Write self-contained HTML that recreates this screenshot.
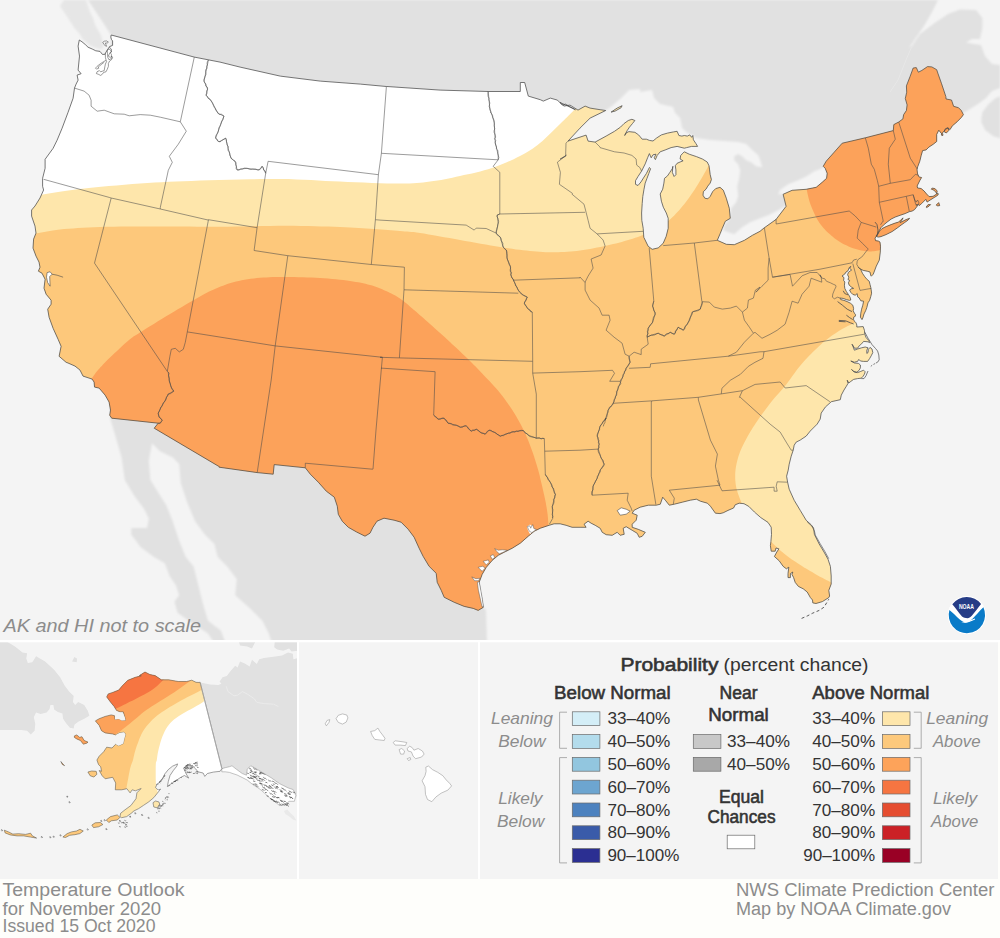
<!DOCTYPE html>
<html><head><meta charset="utf-8"><title>Temperature Outlook</title>
<style>html,body{margin:0;padding:0;background:#fefefb}svg{display:block}text{font-family:"Liberation Sans",sans-serif}</style></head><body>
<svg width="1000" height="938" viewBox="0 0 1000 938">
<defs>
<clipPath id="cm"><rect x="0" y="0" width="1000" height="640"/></clipPath>
<clipPath id="cus"><path d="M111.2 35 L194.3 57.1 L220 62.1 L240.1 67.1 L280.2 76.1 L320.2 81.1 L360.3 84.1 L386.4 86.5 L387 86.5 L440.1 90.1 L488.2 91.5 L520.3 91.5 L520.3 82.5 L524.7 82.5 L528.3 96.1 L540.3 99.7 L543.3 101.1 L550.3 98.1 L557.4 100.1 L562.4 105.1 L565.4 104.1 L575.4 109.7 L560 102.4 L564 106.1 L570 105.1 L578 110.1 L585.1 106.1 L590.1 108.1 L600.1 109.7 L605.7 110.5 L590.1 118.1 L580 128.1 L568 141.1 L586.1 135.1 L588.1 141.1 L595.1 142.1 L606.1 136.1 L614.5 131.3 L620.5 127.1 L624.1 123.5 L628.3 120.5 L631.9 119.3 L634.9 120.5 L632.5 123.5 L629.5 127.1 L627.1 130.7 L624.7 135.5 L625.9 133.1 L628.9 131.6 L634.9 132.3 L638.6 134.9 L642.2 139.2 L646.4 139.2 L649.4 140.4 L653 141 L656.6 138 L661.4 134.9 L667.5 133.1 L673.5 131.9 L677.1 131.3 L678.9 135.5 L681.9 136.1 L684.3 135.5 L687.3 136.1 L689.8 134.9 L691.6 137.3 L692.8 135.5 L693.4 139.8 L695.8 143.4 L697.6 146.4 L691.6 146.4 L686.7 147.6 L684.3 148.2 L677.1 146.4 L671.1 147.6 L665.1 150 L660.2 151.8 L657.2 155.4 L655.4 159.6 L654.2 157.8 L656 154.2 L653 154.8 L651.2 157.8 L649.4 153.6 L647.6 157.8 L645.2 163.9 L641.6 171.1 L638 176.5 L635.5 180.7 L635.5 184.3 L638 185.5 L641 181.9 L644 177.1 L646.4 173.5 L648.2 169.9 L649.4 167.5 L650.6 168.7 L648.8 173.5 L647 178.3 L645.2 183.1 L644 189.2 L642.8 196.4 L642.2 203.6 L641.6 213 L641.8 220.3 L643.2 228.3 L643.8 237.3 L648.2 246.3 L652.2 249.3 L658.2 247.9 L663.2 243.3 L666.2 236.3 L668.2 228.3 L668.2 218.3 L666.3 213 L663.3 207.2 L661.4 201.2 L660.2 194 L662.7 189.2 L663.9 183.1 L664.5 178.3 L667.5 175.9 L669.9 172.3 L672.3 168.7 L672.9 166.3 L672.3 172.3 L674.1 176.5 L675.9 174.7 L675.9 169.9 L675.3 165.7 L677.1 163.3 L680.1 162 L683.1 160.8 L680.1 159 L680.7 155.4 L683.1 153 L684.3 151.8 L689.2 154.2 L696.4 156.6 L702.4 159 L707.2 162 L709 165.7 L709.6 169.9 L710.2 174.7 L711.4 179.5 L710.2 183.1 L707.8 186.1 L706 189.2 L703.4 191.6 L703 195.2 L704.8 198.2 L707.8 198.8 L710.2 196.4 L712.7 191.6 L715.7 188.6 L720 187.3 L723.3 190.2 L726.3 198.2 L729.3 208.3 L730.3 218.3 L725.3 221.3 L722.3 228.3 L720.3 233.3 L717.3 240.3 L726.3 244.3 L734.3 244.7 L744.4 240.3 L752.4 235.3 L760 231.3 L764 228 L776.1 219.4 L786.1 206.3 L783.1 194.3 L792.1 190.3 L806.1 189.3 L816.2 187.3 L822.2 182.3 L826.6 178.3 L827.2 173.3 L825.2 168.3 L823.2 166.3 L826.2 161.2 L834.2 152.2 L842.2 143.2 L865.3 137.8 L893.3 130.6 L893.8 124.6 L898.7 122 L902.9 118.9 L903.6 114.7 L906.4 110.5 L907.1 104.9 L905.3 98.5 L906.7 92.2 L906.4 85.9 L910 76.7 L913.2 68 L916.3 67.6 L918.4 72.2 L921.9 70.4 L927.5 66.6 L931.8 66.9 L936.7 69.7 L938.1 73.9 L941.6 83.8 L945.8 96.4 L946.1 99 L951.5 100 L953.6 106.3 L958.5 107.7 L961.3 110.5 L963.4 114.7 L961.3 117.5 L957.1 121.8 L952.2 126 L950.1 129.5 L947.2 128.1 L944.4 130.9 L941.6 133.7 L938.8 130.2 L936.7 134.4 L936.7 141.5 L933.2 144.3 L928.9 147.1 L926.1 149.9 L922.6 150.6 L921.2 155.5 L919.8 161.2 L917.7 166.8 L917 169.6 L917.6 174 L919.1 177 L921.6 177.5 L920.1 180 L918.6 183 L917.1 186 L917.6 188 L921.1 188.5 L924.1 191 L926.6 194 L929.1 196.6 L933.1 196.3 L936.7 194 L937.2 191 L935.2 188.8 L932.3 188 L931.3 189.2 L933.1 189.8 L935.4 191.5 L936.7 193.5 L938.4 193.8 L937.7 195.3 L934.1 197.6 L930.1 200.1 L927.1 202.1 L925.8 199.3 L924.1 201.1 L921.6 203.6 L919.1 205.6 L918.1 204.1 L917.1 206.3 L914.6 209.6 L912.1 211.1 L909.6 211.6 L905.1 213.6 L900.1 215.3 L895.1 217.1 L891.1 219.1 L887.1 222.1 L883.5 225.1 L881 227.6 L879.5 230.1 L878 233.1 L876.5 236.1 L875 238.1 L875.5 240.6 L878.5 241.1 L880 242.1 L880.5 246.2 L880.3 252.1 L879.3 260.1 L876.3 266.1 L873.3 274.1 L871.3 276.2 L870.8 275.6 L870 272 L867.2 271.2 L863.2 270.4 L860 268.8 L858.4 267.2 L860.8 269.6 L862.4 273.2 L864.8 276.8 L867.2 279.6 L869.2 281.2 L870 284.4 L870.8 287.6 L871.2 290 L871.6 293.2 L870.8 296.4 L869.6 300.4 L868 302.8 L866.8 307.6 L865.6 310.8 L864 314 L862.8 318 L862 319.6 L860.4 317.2 L860.8 313.2 L861.6 309.2 L862.8 305.2 L863.6 301.2 L860.8 300.8 L859.2 298 L857.6 296.8 L857.2 293.6 L855.2 295.2 L852.8 294.4 L850.8 292.4 L849.6 290 L851.2 288.8 L853.6 288.4 L851.6 287.2 L849.2 285.2 L848.4 282.8 L849.6 280.4 L848 279.6 L848.8 277.2 L847.6 274.8 L848.4 272.4 L850.4 270.8 L851.6 270 L849.6 268.4 L850.8 266.4 L849.2 267.6 L848 270.8 L846 272 L844.8 274 L842 276 L844 277.6 L843.6 280.4 L844.8 282 L844.4 285.2 L844.8 288.4 L846.4 291.6 L848.4 294.4 L850 297.2 L850.8 300 L849.6 300.4 L846.4 299.6 L843.2 298.4 L840 298 L840.8 299.6 L844 300.4 L847.2 301.6 L850.4 303.2 L852.8 305.2 L853.6 308.4 L853.2 310.8 L854.4 313.2 L855.6 314.8 L855.2 316.4 L853.6 317.2 L853.6 319.6 L854.4 321.2 L856 322.8 L856.8 325 L856.8 327 L863.2 326.6 L864.4 330.2 L864.8 334.2 L866 337.4 L868.8 340.6 L869.6 342.6 L868 341.8 L863.6 341.4 L861.6 343.8 L859.2 345.8 L857.6 348.2 L854.4 348.2 L853.2 345.8 L852 344.2 L853.2 347 L854.4 350.2 L857.6 349 L861.6 347.8 L865.2 347 L868 347.8 L866.8 350.2 L866.8 353.4 L868 352.6 L868.4 349.4 L870 347.4 L872 349 L872.8 352.6 L871.2 355.8 L869.6 358.6 L867.6 361.4 L863.6 361.4 L860.4 361 L858.8 359.4 L857.6 361.4 L854.4 362.2 L850.8 361 L854.4 363 L858.4 363.4 L860.4 365 L860.4 367.8 L859.2 370.2 L856.8 372.2 L853.6 371.4 L851.6 369.4 L854.4 372.2 L857.6 372.6 L860.8 371.4 L863.6 370.2 L865.2 371.8 L864.4 374.2 L863.2 376.2 L861.2 378.2 L857.6 378.6 L853.6 379.4 L850.8 381.4 L848.8 383 L847.2 380.2 L848 383.4 L846.4 386.2 L844 390 L841.3 395.1 L840.3 399.7 L831.3 401.7 L825.3 407.1 L821.2 413.1 L820.2 419.1 L817.2 424.1 L810.2 431.1 L806.2 436.1 L800.2 440.1 L796.2 442.1 L794.2 445.2 L793.2 450.2 L791.2 456.2 L789.2 464.2 L788.2 470.2 L786.6 476.2 L787.6 482.2 L789.2 489.2 L794.2 500.3 L800.2 510.3 L806.2 520.3 L811.2 524.8 L813.6 528 L814.4 534.4 L819.2 544 L824 552 L828 559.2 L830.4 566.4 L831.2 576 L831.2 584 L828.8 590.4 L829.6 596 L828.8 597.6 L822.4 601.6 L816 603.5 L812.8 602.9 L812.5 600 L810.4 597.6 L807.2 592 L803.2 588.8 L798.4 586.4 L795.2 582.4 L793.6 577.6 L792 574.4 L792.8 572 L790.4 573.6 L790.4 577.6 L788 577.6 L788 573.6 L788.8 567.2 L786.4 568.8 L783.2 566.4 L779.2 560.8 L774.4 556.5 L776.8 552 L778.9 548.8 L776 548 L775.2 551.2 L771.2 551.2 L770.4 545.6 L770.9 541.6 L771.5 534.4 L771.2 527.2 L768 522.4 L760.8 517.6 L754.4 512 L748.8 506.4 L744 503.7 L739.2 503.2 L735.2 504.8 L733.6 508 L728 510.4 L723.2 512.8 L720 513.6 L715.4 513.2 L710.4 506.2 L707.4 503.2 L700.4 501.2 L696.4 499.2 L690.3 500.2 L682.3 502.2 L674.3 504.2 L669.3 505.2 L665.3 500.2 L662.7 497.2 L660.3 504.2 L656.3 505.2 L648.3 505.2 L640.2 507.2 L634.2 510.2 L632.2 513.2 L637.2 515.2 L636.2 520.2 L632.2 524.2 L632.2 527.3 L638.2 529.3 L645.3 532.3 L642.2 536.3 L639.2 537.3 L637.2 533.3 L632.2 530.3 L626.2 526.7 L623.2 528.3 L624.2 534.3 L620.2 535.3 L617.2 532.3 L612.2 535.3 L606.2 534.7 L602.2 532.3 L600.2 528.3 L595.2 525.3 L591.1 523.2 L588.1 521.2 L584.1 524.2 L586.1 527.3 L580.1 527.3 L572.1 527.3 L566.1 525.3 L560.1 523.8 L554.1 523.8 L549.1 525.3 L540.4 528.2 L534.3 531.2 L528.3 536.2 L520.3 543.2 L512.3 548.2 L504.3 552.2 L498.3 555.3 L492.3 560.3 L486.3 567.3 L482.2 574.3 L479.2 582.3 L480.2 590.3 L481.8 598.3 L483.2 607.4 L478.2 610.4 L473.2 608.4 L464.2 606.4 L454.2 602.3 L444.2 597.3 L441.2 590.3 L437.2 582.3 L436.2 573.3 L429.1 566.3 L423.1 556.3 L419.1 548.2 L414.1 537.2 L408.1 529.2 L401.1 522.2 L394.1 520.2 L384 518.2 L377 521.2 L373 527.2 L370 533.2 L365 536.2 L356.4 531.9 L348.3 527.3 L342.3 521.3 L338.3 514.3 L337.3 506.3 L334.3 497.2 L326.3 491.2 L318.3 482.2 L310.3 474.2 L305.3 467.8 L274.2 464.6 L273.2 474.2 L257.2 472.6 L219.1 467.2 L219.3 466.7 L154.2 428.2 L158.2 423.2 L111.7 418.2 L109.7 415.2 L110.5 410.1 L109.1 402.1 L105.1 395.1 L99.1 388.1 L94.5 387.1 L94.1 382.1 L92.1 379.1 L83 376.1 L80 370.1 L75 366.1 L68 363 L66.1 362.3 L59.1 356.3 L61.1 346.3 L58.1 339.3 L53.1 328.3 L49.1 317.3 L47.7 309.2 L51.1 304.2 L51.1 300.2 L46.1 294.2 L44 288.2 L45.1 279.2 L42 273.2 L38.4 271.2 L40 267.2 L39 262.1 L36 256.1 L33 248.1 L33.6 239.1 L36 233.1 L35 226.1 L31.6 216.1 L31.6 210 L35 206 L40 198 L43.6 190 L42.6 186.3 L42.6 178.3 L45.1 168.3 L45.1 159.3 L53.1 148.3 L57.1 140.2 L62.1 128.2 L68.1 112.2 L73.1 98.2 L74.5 88.1 L76.1 84.1 L78.1 80.1 L77.1 75.1 L81.1 73.7 L78.1 70.1 L79.5 56.1 L78.1 46.1 L79.3 40 L82 41.8 L85.6 44.8 L88 47.2 L92.2 49 L95.8 50.8 L100 51.4 L102.4 54.4 L104.8 54.4 L105.4 53.2 L107.2 50.2 L109.6 46.6 L112.6 45.4 L112.6 40.9 L111.4 39.4 L110.8 37Z M879.5 231.1 L882 228.6 L886.1 226.6 L891.1 224.6 L895.1 223.1 L898.6 222.1 L900.6 220.1 L903.1 217.9 L901.6 220.6 L900.1 222.6 L903.1 221.1 L906.1 219.6 L909.6 218.3 L908.1 220.1 L904.6 222.6 L901.1 225.1 L897.1 228.1 L892.1 231.6 L886.1 234.6 L881 236.6 L878.5 237.1 L876.5 236.6Z M926.1 207.1 L928.1 204.6 L930.6 204.6 L929.1 206.1 L926.6 207.6Z M936.2 205.1 L938.7 202.6 L939.7 205.6 L937.7 205.9Z M611.1 112.1 L617.1 108.1 L622.1 105.7 L621.1 107.7 L615.1 111.1Z M944 131.6 L945.3 128.8 L948.1 127.7 L948.8 130.5 L946.3 133Z M941.3 134.1 L942.7 133.6 L943 135.3 L941.8 135.5Z"/></clipPath>
<clipPath id="cak"><rect x="0" y="642" width="297" height="237"/></clipPath>
<clipPath id="caks"><path d="M145 672 L149.8 674.5 L155.1 675.6 L161.4 679.8 L168.7 679.8 L178.2 681.5 L186.6 681.5 L191.8 680.2 L196 682.3 L200.2 682.5 L221.9 768.6 L220.1 771.3 L213.3 772.1 L207.4 773.5 L204.8 776.4 L203.1 773 L198 771.8 L195.5 768.7 L192.9 766.2 L187.8 765.3 L183.6 767.9 L186.1 773.8 L188.7 778.1 L184.4 775.5 L181 777.2 L175.9 780.6 L170.8 784 L167.4 786.6 L168.3 781.5 L170 775.5 L173.4 770.4 L176.8 766.2 L177.6 763.9 L172.5 766.2 L168.3 769.6 L164.9 773.8 L163.2 777.2 L160.6 781.5 L157.2 784 L155.5 787.4 L158.1 790 L160.6 789.1 L157.2 793.4 L153.8 797.6 L148.7 801.9 L143.6 805.3 L138.5 808.7 L133.4 811.2 L132.6 812.3 L126.7 816.6 L121.6 817.7 L119.9 816.6 L120.7 813.2 L125 809.8 L130.9 805.5 L136 798.7 L136.9 792.8 L141.1 788.5 L135.4 790.8 L132.2 789.8 L130.1 792.9 L126.9 788.7 L121.7 789.8 L115.3 789.8 L115.7 783 L112.7 777.3 L105.2 778.8 L102.2 775.8 L99.2 770.5 L101.5 771.3 L100.7 766.8 L98.5 764.5 L96.9 760 L99.2 756.2 L103.7 751.7 L106.7 747.2 L112 748 L115.7 744.2 L118.7 745.7 L123.3 743.5 L124 739.7 L125.5 734.4 L124 732.2 L119.5 732.9 L115.7 734.9 L112.7 734 L105.2 732.9 L101.5 730.7 L99.2 725.4 L95.4 720.9 L99.2 718.7 L105.2 716.4 L111.2 714.9 L114.5 715.7 L115 719.4 L118.7 718.7 L121.7 720.2 L125.5 720.2 L124.8 717.2 L123.3 711.9 L120.2 711.9 L116.5 710.4 L114.2 706.6 L110.5 702.1 L106.7 696.9 L108.2 693.9 L112.7 692.4 L118.7 690.1 L122.5 685.6 L127.8 680.3 L135.3 677.3 L141.3 675.8 L139.3 675.6Z M74.4 735.9 L76.7 734.9 L79.7 737.4 L81.9 736.7 L84.2 740.5 L87.9 742 L87.2 743 L83.4 744.2 L80.4 740.5 L76.7 738.9 L74.4 737.4Z M87.9 772 L91.7 771 L96.2 771.3 L96.9 774.3 L93.9 777 L90.2 775.8Z M60.9 761.5 L62.4 764.5 L64.6 765.6 L62.8 764.1Z M153 802.7 L155.5 801 L158.9 801.9 L159.8 804.4 L157.2 807.8 L153.8 807Z M106.3 820 L110.5 816.6 L117.3 814.9 L119.9 817.4 L117.3 820 L111.4 820.8 L108.8 822.5Z M91.8 825.1 L95.2 822.8 L100.3 822.5 L102.9 824.5 L98.6 826.8 L93.5 827.6Z M62.9 837 L67.2 833.6 L71.4 831.9 L76.5 831 L79.9 829.3 L83.3 831 L79.9 833.6 L74.8 834.7 L69.7 835.3 L65.5 837.5Z M4.3 830.2 L8.5 831.9 L12.8 834.1 L18.7 833.7 L25.5 834.4 L30.6 833.2 L32.3 835.8 L36.6 838.1 L30.6 837.1 L23.8 835.9 L17 835.9 L10.2 834.9 L5.1 832.9Z"/></clipPath>
<filter id="bl" x="-5%" y="-5%" width="110%" height="110%"><feGaussianBlur stdDeviation="0.9"/></filter>
<filter id="bl2" x="-5%" y="-5%" width="110%" height="110%"><feGaussianBlur stdDeviation="0.6"/></filter>
</defs>
<rect width="1000" height="938" fill="#fefefb"/>
<g clip-path="url(#cm)">
<rect width="1000" height="640" fill="#f4f4f4"/>
<g filter="url(#bl)">
<path d="M88 0 L96 12 L104 24 L111 35 L111 100 L600 200 L800 260 L900 140 L963 113 L970 109 L978 104 L986 98 L992 91 L1000 88 L1000 65 L992 64 L985 56 L981 45 L974 44 L966 42.4 L972 39 L980 39 L982.4 28 L982.4 18 L976 10 L960 9.6 L948 14 L936 22 L920 34 L912 46 L909 48 L915 39 L924 26 L932 12 L938 0Z" fill="#e1e1e1" />
<path d="M64 0 L60 6 L68 18 L74 27.5 L77.2 31 L80.2 34.6 L82 38.2 L85.6 41.8 L89.2 44.8 L94 47.2 L98.2 48.4 L102.4 49 L103.6 44.8 L102.4 40.6 L101.2 35.8 L99.4 32.2 L97 28.6 L95.2 25 L93 18 L90 12 L86 0Z" fill="#e6e6e6" />
<path d="M981.4 118.2 L982.4 112.2 L988.4 104.2 L995.4 98.2 L1000.4 96.2 L1000.4 138.3 L993.4 136.3 L985.4 130.3 L981.4 122.2Z" fill="#e1e1e1" />
<path d="M152 443.2 L160 451.2 L172.8 457.6 L179.2 464 L180.8 483.2 L187.2 502.4 L195.2 521.6 L204.8 534.4 L214.4 544 L217.6 556.8 L227.2 566.4 L236.8 579.2 L235.2 595.2 L249.6 608 L262.4 620.8 L268.8 633.6 L272 643.2 L487 643 L486 610 L483 607 L400 450 L250 430 L150 414Z" fill="#e1e1e1" />
<path d="M110.4 419.2 L115.2 435.2 L121.6 457.6 L124.8 480 L134.4 496 L144 508.8 L148.8 518.4 L147.2 528 L131.2 528 L131.2 534.4 L140.8 547.2 L153.6 556.8 L164.8 563.2 L169.6 576 L176 585.6 L179.2 595.2 L174.4 601.6 L177.6 612.8 L188.8 620.8 L198.4 627.2 L208 633.6 L214.4 643.2 L225.6 643.2 L220.8 630.4 L208 620.8 L203.2 604.8 L198.4 585.6 L193.6 566.4 L185.6 556.8 L179.2 540.8 L172.8 521.6 L166.4 505.6 L158.4 492.8 L150.4 480 L148.8 460.8 L152 443.2 L156 416 L110 400Z" fill="#e1e1e1" />
<path d="M605.6 110.4 L612.1 106.1 L620.1 99 L629.1 90 L640.2 89 L640 92 L652 90 L654 98 L660 104 L673.1 107.1 L675.1 113.1 L680.1 118.1 L682.1 128.1 L686.1 132.1 L696.1 138.1 L710.1 140.1 L724.2 141.1 L738.2 142.1 L746.2 144.1 L752.2 150.1 L758.2 155.2 L760.2 160.2 L762.2 167.2 L756.2 166.2 L751.2 162.2 L746.2 160.2 L742.2 156.2 L738.2 154.1 L734.2 156.2 L734.2 160.2 L738.2 164.2 L740.2 170.2 L739.2 178.2 L737.2 186.2 L738.2 196.2 L736.2 202.2 L731.2 208.3 L730.2 216.3 L728.2 220.3 L724.2 225.3 L723.2 230.3 L728.2 232.3 L734.2 234.3 L742.2 227.3 L750.2 222.3 L760.2 218.3 L768.3 215.3 L778.3 210.3 L786.3 205.3 L787.3 203.8 L786.3 199.2 L783.3 194.2 L778.3 194.2 L780.3 189.8 L788.3 184.2 L798.3 180.2 L806.3 176.6 L814.3 171.2 L822.4 168.2 L825.4 164.2 L830 200 L760 260 L600 260 L555 160 L555 135Z" fill="#f4f4f4" />
</g>
<path d="M912 46 L906 60 L898 80 L890 92" fill="none" stroke="#e7e7e7" stroke-width="1.0" stroke-linejoin="round" />
<g clip-path="url(#cus)">
<rect width="1000" height="640" fill="#ffffff"/>
<path d="M10 201 L12.2 200.5 L15.2 199.9 L18.6 199.2 L22.5 198.4 L26.7 197.5 L31.1 196.6 L35.6 195.8 L40 195 L44.4 194.2 L48.8 193.5 L53.4 192.7 L58.1 192 L63.1 191.2 L68.4 190.5 L74 189.7 L80 189 L86.5 188.3 L93.6 187.5 L101 186.8 L108.8 186.1 L116.6 185.4 L124.5 184.7 L132.4 184.1 L140 183.5 L147.4 183 L154.5 182.6 L161.6 182.2 L168.8 181.8 L176 181.5 L183.6 181.2 L191.5 180.9 L200 180.6 L209.2 180.3 L219.1 180 L229.4 179.7 L240 179.5 L250.6 179.2 L260.9 179.1 L270.8 179 L280 179 L288.5 179.1 L296.4 179.4 L304 179.7 L311.2 180.1 L318.4 180.5 L325.5 180.9 L332.6 181.3 L340 181.6 L347.7 181.9 L355.7 182.2 L363.8 182.6 L371.9 182.9 L379.7 183.2 L387.1 183.4 L393.9 183.5 L400 183.6 L405.2 183.6 L409.6 183.5 L413.4 183.3 L416.9 183.1 L420.1 182.8 L423.2 182.4 L426.5 182 L430 181.6 L433.7 181.1 L437.5 180.5 L441.2 179.9 L444.9 179.2 L448.6 178.4 L452.4 177.7 L456.2 176.8 L460 176 L463.9 175.1 L468 174.3 L472 173.4 L476.1 172.4 L480.2 171.4 L484.2 170.3 L488.2 169.2 L492 168 L495.7 166.7 L499.5 165.3 L503.1 163.8 L506.8 162.3 L510.3 160.7 L513.7 159.2 L516.9 157.6 L520 156 L522.9 154.5 L525.6 153 L528.1 151.5 L530.5 149.9 L532.9 148.4 L535.2 146.7 L537.6 144.9 L540 143 L542.5 140.9 L545.1 138.6 L547.7 136.1 L550.3 133.6 L552.9 131.1 L555.4 128.6 L557.7 126.2 L560 124 L562 122 L563.9 120.2 L565.6 118.6 L567.2 117 L568.9 115.3 L570.7 113.5 L572.7 111.4 L575 109 L577.8 106 L581.1 102.5 L584.7 98.6 L588.4 94.6 L592 90.7 L595.3 87.1 L598 84.2 L600 82 L1000 0 L1000 640 L0 640 L0 201Z" fill="#fee6ab" />
<path d="M10 238 L12 237.7 L14.6 237.2 L17.8 236.7 L21.3 236.1 L25 235.4 L28.7 234.8 L32.3 234.2 L35.6 233.6 L38.6 233.1 L41.4 232.5 L44.2 232 L46.9 231.4 L49.8 230.9 L52.8 230.4 L56.2 229.9 L60 229.5 L64.1 229.1 L68.4 228.7 L73 228.4 L77.8 228 L82.8 227.7 L88.2 227.5 L93.9 227.2 L100 227 L106.5 226.8 L113.6 226.7 L121 226.6 L128.8 226.5 L136.6 226.5 L144.5 226.4 L152.4 226.4 L160 226.4 L167.5 226.4 L174.9 226.5 L182.2 226.5 L189.6 226.6 L197.1 226.7 L204.6 226.8 L212.2 226.8 L220 226.8 L228 226.7 L236.4 226.6 L244.8 226.4 L253.4 226.2 L261.9 226.1 L270.2 225.9 L278.3 225.8 L286 225.8 L293.5 225.8 L300.8 225.9 L308 226.1 L315 226.2 L321.7 226.4 L328.2 226.6 L334.3 226.8 L340 227 L345.3 227.2 L350.1 227.4 L354.6 227.7 L358.8 227.9 L362.7 228.2 L366.5 228.5 L370.3 228.7 L374 229 L377.7 229.2 L381.2 229.5 L384.6 229.8 L387.9 230 L391 230.2 L394.1 230.5 L397.1 230.8 L400 231 L402.7 231.2 L405 231.4 L407.1 231.5 L409.1 231.7 L411.3 231.9 L413.7 232.1 L416.6 232.5 L420 233 L424 233.6 L428.6 234.4 L433.5 235.3 L438.8 236.2 L444.1 237.2 L449.5 238.1 L454.9 239.1 L460 240 L465.1 240.9 L470.2 241.8 L475.4 242.8 L480.6 243.7 L485.7 244.6 L490.7 245.5 L495.5 246.3 L500 247 L504.3 247.7 L508.3 248.3 L512.2 248.8 L515.9 249.4 L519.6 249.8 L523.1 250.3 L526.6 250.6 L530 251 L533.4 251.3 L536.6 251.6 L539.7 251.8 L542.8 252 L545.8 252.2 L548.9 252.3 L551.9 252.3 L555 252.3 L558.1 252.2 L561.2 252.1 L564.3 252 L567.4 251.8 L570.5 251.5 L573.6 251.2 L576.8 250.9 L580 250.5 L583.3 250 L586.7 249.5 L590.2 248.9 L593.6 248.3 L597.1 247.6 L600.5 246.9 L603.8 246.2 L607 245.5 L610.1 244.8 L613.1 244.1 L616 243.4 L618.9 242.7 L621.8 241.9 L624.6 241.1 L627.3 240.3 L630 239.5 L632.7 238.7 L635.3 237.8 L637.9 236.9 L640.4 236 L642.9 235.1 L645.3 234.1 L647.7 233.1 L650 232 L652.3 230.9 L654.5 229.8 L656.7 228.6 L658.9 227.4 L661 226.2 L663 224.8 L665 223.5 L667 222 L668.9 220.5 L670.8 218.8 L672.6 217.1 L674.3 215.4 L676 213.6 L677.7 211.7 L679.4 209.9 L681 208 L682.6 206.1 L684.2 204.2 L685.7 202.2 L687.2 200.2 L688.7 198.2 L690.1 196.2 L691.6 194.1 L693 192 L694.4 189.9 L695.8 187.7 L697.2 185.5 L698.6 183.2 L699.9 181 L701.3 178.7 L702.6 176.4 L704 174 L705.3 171.8 L706.4 169.7 L707.5 167.7 L708.6 165.6 L709.8 163.3 L711.3 160.7 L713 157.7 L715 154 L717.6 149.3 L720.9 143.7 L724.4 137.3 L728.2 130.8 L731.8 124.3 L735.2 118.5 L738 113.6 L740 110 L1000 100 L1000 300 L900 312 L898.5 312.3 L896.4 312.7 L894 313.2 L891.2 313.7 L888.4 314.3 L885.5 314.8 L882.6 315.4 L880 316 L877.5 316.6 L874.9 317.2 L872.2 317.8 L869.6 318.4 L867.1 319 L864.6 319.7 L862.2 320.3 L860 321 L858 321.7 L856.1 322.3 L854.4 323 L852.8 323.7 L851.1 324.4 L849.5 325.2 L847.8 326.1 L846 327 L844.1 328 L842.1 329.1 L840.1 330.3 L838.1 331.6 L836 332.9 L834 334.2 L832 335.6 L830 337 L828.1 338.5 L826.2 340 L824.3 341.5 L822.4 343.1 L820.6 344.8 L818.7 346.5 L816.9 348.2 L815 350 L813.1 351.8 L811.2 353.7 L809.4 355.6 L807.5 357.6 L805.6 359.6 L803.8 361.6 L801.9 363.8 L800 366 L798.1 368.3 L796.2 370.8 L794.3 373.4 L792.4 376.1 L790.5 378.7 L788.6 381.3 L786.8 383.7 L785 386 L783.3 388.1 L781.6 390.1 L779.9 391.9 L778.3 393.8 L776.7 395.5 L775.1 397.3 L773.6 399.1 L772 401 L770.4 402.9 L768.9 404.9 L767.4 406.9 L765.9 408.9 L764.4 410.9 L762.9 412.9 L761.4 414.9 L760 417 L758.6 419.1 L757.1 421.2 L755.7 423.3 L754.3 425.4 L752.9 427.5 L751.6 429.7 L750.3 431.8 L749 434 L747.7 436.2 L746.5 438.4 L745.3 440.7 L744.1 442.9 L743 445.2 L741.9 447.5 L740.9 449.7 L740 452 L739.2 454.3 L738.4 456.5 L737.8 458.8 L737.2 461.1 L736.6 463.4 L736.2 465.6 L735.8 467.8 L735.5 470 L735.3 472.1 L735.2 474.2 L735.2 476.3 L735.2 478.3 L735.3 480.3 L735.5 482.3 L735.7 484.2 L736 486 L736.3 487.8 L736.7 489.5 L737.2 491.1 L737.7 492.7 L738.2 494.3 L738.8 495.8 L739.4 497.4 L740 499 L740.6 500.6 L741.2 502.2 L741.9 503.7 L742.6 505.3 L743.3 506.9 L744.1 508.5 L745 510.2 L746 512 L747.1 513.9 L748.3 515.8 L749.6 517.9 L751 520 L752.4 522 L753.9 524.1 L755.4 526.1 L757 528 L758.6 529.8 L760.3 531.6 L762.1 533.3 L763.9 535 L765.7 536.7 L767.5 538.4 L769.3 540 L771 541.6 L772.7 543.2 L774.2 544.7 L775.8 546.3 L777.4 547.8 L778.9 549.2 L780.6 550.7 L782.2 552.1 L784 553.6 L785.9 555 L787.8 556.5 L789.8 557.9 L791.8 559.4 L793.9 560.8 L795.9 562.1 L798 563.5 L800 564.8 L802 566.1 L804 567.4 L806 568.6 L808.1 569.8 L810.1 571 L812.1 572.1 L814 573.3 L816 574.4 L817.8 575.4 L819.5 576.4 L821.1 577.3 L822.7 578.1 L824.4 579.1 L826.3 580 L828.5 581.1 L831 582.4 L834.2 583.9 L837.9 585.7 L842.1 587.7 L846.4 589.7 L850.6 591.6 L854.5 593.4 L857.7 594.9 L860 596 L860 640 L0 640 L0 238Z" fill="#fdc87b" />
<path d="M70 400 L84 388 L84.6 387.2 L85.5 386.2 L86.5 384.9 L87.6 383.5 L88.8 382 L90 380.6 L91 379.2 L92 378 L92.8 376.9 L93.5 376 L94.1 375.1 L94.8 374.2 L95.4 373.2 L96.1 372.3 L97 371.2 L98 370 L99.2 368.7 L100.4 367.3 L101.8 365.9 L103.2 364.3 L104.7 362.8 L106.4 361.1 L108.1 359.3 L110 357.5 L112.1 355.5 L114.4 353.2 L117 350.9 L119.6 348.4 L122.2 346 L124.6 343.8 L127 341.7 L129 340 L130.6 338.7 L131.9 337.7 L132.9 336.9 L133.8 336.3 L134.8 335.7 L136.1 334.9 L137.8 333.9 L140 332.5 L142.8 330.7 L146.2 328.6 L149.9 326.3 L153.8 323.9 L157.9 321.3 L162.1 318.8 L166.1 316.3 L170 314 L173.8 311.7 L177.8 309.3 L181.9 306.9 L185.9 304.6 L189.8 302.3 L193.5 300.2 L196.9 298.2 L200 296.5 L202.6 295 L204.9 293.8 L206.8 292.8 L208.6 291.8 L210.3 291 L212 290.2 L213.9 289.4 L216 288.5 L218.3 287.6 L220.6 286.6 L223 285.7 L225.5 284.7 L228 283.8 L230.6 283 L233.3 282.2 L236 281.5 L238.8 280.9 L241.7 280.3 L244.6 279.7 L247.6 279.3 L250.7 278.8 L253.8 278.4 L256.9 278.1 L260 277.8 L263.1 277.5 L266.2 277.4 L269.3 277.2 L272.4 277.1 L275.6 277 L278.9 277 L282.4 277 L286 277 L289.9 277 L294 277.1 L298.3 277.2 L302.8 277.3 L307.2 277.4 L311.6 277.6 L315.9 277.8 L320 278 L324 278.3 L328 278.6 L332 278.9 L335.9 279.3 L339.7 279.7 L343.3 280.1 L346.8 280.6 L350 281 L353 281.4 L355.8 281.9 L358.4 282.3 L360.9 282.8 L363.2 283.3 L365.5 283.8 L367.8 284.4 L370 285 L372.2 285.6 L374.3 286.3 L376.4 287 L378.4 287.8 L380.3 288.6 L382.2 289.3 L384.1 290.2 L386 291 L387.8 291.8 L389.6 292.7 L391.4 293.5 L393.1 294.4 L394.8 295.3 L396.5 296.3 L398.3 297.4 L400 298.5 L401.7 299.7 L403.5 301 L405.2 302.4 L406.9 303.8 L408.6 305.3 L410.4 306.9 L412.2 308.4 L414 310 L415.9 311.6 L417.8 313.2 L419.7 314.9 L421.6 316.6 L423.6 318.3 L425.7 320.2 L427.8 322 L430 324 L432.3 326.1 L434.7 328.2 L437.2 330.4 L439.8 332.7 L442.3 335 L444.9 337.3 L447.5 339.7 L450 342 L452.5 344.4 L455.1 346.8 L457.8 349.2 L460.4 351.7 L462.9 354.2 L465.4 356.5 L467.8 358.8 L470 361 L472 363 L473.9 364.9 L475.6 366.6 L477.2 368.3 L478.9 370 L480.5 371.8 L482.2 373.6 L484 375.5 L485.9 377.5 L487.9 379.5 L489.9 381.6 L491.9 383.7 L493.9 385.9 L496 388.2 L498 390.5 L500 393 L502 395.6 L504.1 398.3 L506.2 401.2 L508.2 404.1 L510.3 407.1 L512.3 410.1 L514.2 413 L516 416 L517.7 418.9 L519.4 421.9 L520.9 424.8 L522.4 427.8 L523.9 430.8 L525.3 433.8 L526.7 436.9 L528 440 L529.3 443.2 L530.5 446.4 L531.7 449.7 L532.9 453 L534 456.3 L535 459.6 L536 462.8 L537 466 L537.9 469.1 L538.8 472.2 L539.6 475.3 L540.3 478.4 L541 481.4 L541.7 484.3 L542.4 487.2 L543 490 L543.6 492.7 L544.2 495.3 L544.8 497.9 L545.3 500.4 L545.8 502.8 L546.2 505.2 L546.6 507.6 L547 510 L547.3 512.2 L547.6 514.3 L547.8 516.3 L548 518.2 L548.1 520.3 L548.3 522.6 L548.4 525.1 L548.6 528 L548.8 531.5 L549 535.8 L549.2 540.4 L549.4 545.1 L549.6 549.7 L549.8 553.9 L549.9 557.4 L550 560 L550 640 L70 640Z" fill="#fca25a" />
<path d="M796 120 L802 160 L802.2 161.6 L802.6 163.8 L802.9 166.4 L803.4 169.3 L803.8 172.3 L804.2 175.2 L804.7 177.8 L805 180 L805.3 181.8 L805.5 183.4 L805.8 184.7 L806 186 L806.2 187.2 L806.5 188.4 L806.7 189.6 L807 191 L807.3 192.5 L807.6 193.9 L808 195.4 L808.3 196.9 L808.7 198.5 L809.1 200 L809.5 201.5 L810 203 L810.5 204.5 L811.1 206 L811.7 207.6 L812.3 209.1 L813 210.6 L813.6 212.1 L814.3 213.6 L815 215 L815.7 216.4 L816.4 217.7 L817.1 219 L817.8 220.2 L818.6 221.4 L819.3 222.7 L820.1 223.8 L821 225 L821.9 226.1 L822.8 227.2 L823.7 228.3 L824.7 229.3 L825.7 230.4 L826.7 231.4 L827.8 232.4 L829 233.5 L830.2 234.6 L831.5 235.7 L832.8 236.8 L834.1 237.9 L835.5 239 L837 240 L838.5 241 L840 242 L841.6 242.9 L843.3 243.9 L845 244.7 L846.8 245.6 L848.6 246.4 L850.4 247.2 L852.2 247.9 L854 248.5 L855.8 249.1 L857.5 249.6 L859.3 250 L861.1 250.4 L862.9 250.7 L864.6 251 L866.3 251.2 L868 251.3 L869.6 251.4 L871.1 251.4 L872.5 251.3 L873.9 251.2 L875.4 251 L876.8 250.8 L878.4 250.4 L880 250 L881.8 249.4 L883.9 248.7 L886.1 247.8 L888.2 246.9 L890.3 246 L892.2 245.2 L893.8 244.5 L895 244 L1000 240 L1000 0 L796 0Z" fill="#fca25a" />
</g>
<path d="M864.8 332.2 L868 338.2 L872 344.6 L875.6 348.6 L877.6 351 L878.8 355 L879.2 359.8 L877.6 362.2 L876 363" fill="none" stroke="#4a4a4a" stroke-width="0.7" stroke-linejoin="round" />
<path d="M868 371 L866 375.8 L864 378.6 L861.2 378.6" fill="none" stroke="#4a4a4a" stroke-width="0.7" stroke-linejoin="round" />
<path d="M875.2 363.5 L872.4 365 L870.8 366.4" fill="none" stroke="#4a4a4a" stroke-width="0.7" stroke-linejoin="round" stroke-dasharray="2 1.5"/>
<path d="M843.2 290.8 L844.8 293.6 L848 294.8" fill="none" stroke="#4a4a4a" stroke-width="0.8" stroke-linejoin="round" />
<path d="M837.6 301.6 L842.4 305.2 L847.2 309.2 L852 311.6" fill="none" stroke="#4a4a4a" stroke-width="0.8" stroke-linejoin="round" />
<path d="M846.4 315.2 L849.6 317.6 L852.8 319.6" fill="none" stroke="#4a4a4a" stroke-width="0.8" stroke-linejoin="round" />
<path d="M838.8 320.4 L845.6 320.8 L850.4 322.8 L853.6 324" fill="none" stroke="#4a4a4a" stroke-width="0.8" stroke-linejoin="round" />
<path d="M838.8 321.4 L845.6 321.8" fill="none" stroke="#4a4a4a" stroke-width="0.8" stroke-linejoin="round" />
<path d="M111.2 35 L194.3 57.1 L220 62.1 L240.1 67.1 L280.2 76.1 L320.2 81.1 L360.3 84.1 L386.4 86.5 L387 86.5 L440.1 90.1 L488.2 91.5 L520.3 91.5 L520.3 82.5 L524.7 82.5 L528.3 96.1 L540.3 99.7 L543.3 101.1 L550.3 98.1 L557.4 100.1 L562.4 105.1 L565.4 104.1 L575.4 109.7 L560 102.4 L564 106.1 L570 105.1 L578 110.1 L585.1 106.1 L590.1 108.1 L600.1 109.7 L605.7 110.5 L590.1 118.1 L580 128.1 L568 141.1 L586.1 135.1 L588.1 141.1 L595.1 142.1 L606.1 136.1 L614.5 131.3 L620.5 127.1 L624.1 123.5 L628.3 120.5 L631.9 119.3 L634.9 120.5 L632.5 123.5 L629.5 127.1 L627.1 130.7 L624.7 135.5 L625.9 133.1 L628.9 131.6 L634.9 132.3 L638.6 134.9 L642.2 139.2 L646.4 139.2 L649.4 140.4 L653 141 L656.6 138 L661.4 134.9 L667.5 133.1 L673.5 131.9 L677.1 131.3 L678.9 135.5 L681.9 136.1 L684.3 135.5 L687.3 136.1 L689.8 134.9 L691.6 137.3 L692.8 135.5 L693.4 139.8 L695.8 143.4 L697.6 146.4 L691.6 146.4 L686.7 147.6 L684.3 148.2 L677.1 146.4 L671.1 147.6 L665.1 150 L660.2 151.8 L657.2 155.4 L655.4 159.6 L654.2 157.8 L656 154.2 L653 154.8 L651.2 157.8 L649.4 153.6 L647.6 157.8 L645.2 163.9 L641.6 171.1 L638 176.5 L635.5 180.7 L635.5 184.3 L638 185.5 L641 181.9 L644 177.1 L646.4 173.5 L648.2 169.9 L649.4 167.5 L650.6 168.7 L648.8 173.5 L647 178.3 L645.2 183.1 L644 189.2 L642.8 196.4 L642.2 203.6 L641.6 213 L641.8 220.3 L643.2 228.3 L643.8 237.3 L648.2 246.3 L652.2 249.3 L658.2 247.9 L663.2 243.3 L666.2 236.3 L668.2 228.3 L668.2 218.3 L666.3 213 L663.3 207.2 L661.4 201.2 L660.2 194 L662.7 189.2 L663.9 183.1 L664.5 178.3 L667.5 175.9 L669.9 172.3 L672.3 168.7 L672.9 166.3 L672.3 172.3 L674.1 176.5 L675.9 174.7 L675.9 169.9 L675.3 165.7 L677.1 163.3 L680.1 162 L683.1 160.8 L680.1 159 L680.7 155.4 L683.1 153 L684.3 151.8 L689.2 154.2 L696.4 156.6 L702.4 159 L707.2 162 L709 165.7 L709.6 169.9 L710.2 174.7 L711.4 179.5 L710.2 183.1 L707.8 186.1 L706 189.2 L703.4 191.6 L703 195.2 L704.8 198.2 L707.8 198.8 L710.2 196.4 L712.7 191.6 L715.7 188.6 L720 187.3 L723.3 190.2 L726.3 198.2 L729.3 208.3 L730.3 218.3 L725.3 221.3 L722.3 228.3 L720.3 233.3 L717.3 240.3 L726.3 244.3 L734.3 244.7 L744.4 240.3 L752.4 235.3 L760 231.3 L764 228 L776.1 219.4 L786.1 206.3 L783.1 194.3 L792.1 190.3 L806.1 189.3 L816.2 187.3 L822.2 182.3 L826.6 178.3 L827.2 173.3 L825.2 168.3 L823.2 166.3 L826.2 161.2 L834.2 152.2 L842.2 143.2 L865.3 137.8 L893.3 130.6 L893.8 124.6 L898.7 122 L902.9 118.9 L903.6 114.7 L906.4 110.5 L907.1 104.9 L905.3 98.5 L906.7 92.2 L906.4 85.9 L910 76.7 L913.2 68 L916.3 67.6 L918.4 72.2 L921.9 70.4 L927.5 66.6 L931.8 66.9 L936.7 69.7 L938.1 73.9 L941.6 83.8 L945.8 96.4 L946.1 99 L951.5 100 L953.6 106.3 L958.5 107.7 L961.3 110.5 L963.4 114.7 L961.3 117.5 L957.1 121.8 L952.2 126 L950.1 129.5 L947.2 128.1 L944.4 130.9 L941.6 133.7 L938.8 130.2 L936.7 134.4 L936.7 141.5 L933.2 144.3 L928.9 147.1 L926.1 149.9 L922.6 150.6 L921.2 155.5 L919.8 161.2 L917.7 166.8 L917 169.6 L917.6 174 L919.1 177 L921.6 177.5 L920.1 180 L918.6 183 L917.1 186 L917.6 188 L921.1 188.5 L924.1 191 L926.6 194 L929.1 196.6 L933.1 196.3 L936.7 194 L937.2 191 L935.2 188.8 L932.3 188 L931.3 189.2 L933.1 189.8 L935.4 191.5 L936.7 193.5 L938.4 193.8 L937.7 195.3 L934.1 197.6 L930.1 200.1 L927.1 202.1 L925.8 199.3 L924.1 201.1 L921.6 203.6 L919.1 205.6 L918.1 204.1 L917.1 206.3 L914.6 209.6 L912.1 211.1 L909.6 211.6 L905.1 213.6 L900.1 215.3 L895.1 217.1 L891.1 219.1 L887.1 222.1 L883.5 225.1 L881 227.6 L879.5 230.1 L878 233.1 L876.5 236.1 L875 238.1 L875.5 240.6 L878.5 241.1 L880 242.1 L880.5 246.2 L880.3 252.1 L879.3 260.1 L876.3 266.1 L873.3 274.1 L871.3 276.2 L870.8 275.6 L870 272 L867.2 271.2 L863.2 270.4 L860 268.8 L858.4 267.2 L860.8 269.6 L862.4 273.2 L864.8 276.8 L867.2 279.6 L869.2 281.2 L870 284.4 L870.8 287.6 L871.2 290 L871.6 293.2 L870.8 296.4 L869.6 300.4 L868 302.8 L866.8 307.6 L865.6 310.8 L864 314 L862.8 318 L862 319.6 L860.4 317.2 L860.8 313.2 L861.6 309.2 L862.8 305.2 L863.6 301.2 L860.8 300.8 L859.2 298 L857.6 296.8 L857.2 293.6 L855.2 295.2 L852.8 294.4 L850.8 292.4 L849.6 290 L851.2 288.8 L853.6 288.4 L851.6 287.2 L849.2 285.2 L848.4 282.8 L849.6 280.4 L848 279.6 L848.8 277.2 L847.6 274.8 L848.4 272.4 L850.4 270.8 L851.6 270 L849.6 268.4 L850.8 266.4 L849.2 267.6 L848 270.8 L846 272 L844.8 274 L842 276 L844 277.6 L843.6 280.4 L844.8 282 L844.4 285.2 L844.8 288.4 L846.4 291.6 L848.4 294.4 L850 297.2 L850.8 300 L849.6 300.4 L846.4 299.6 L843.2 298.4 L840 298 L840.8 299.6 L844 300.4 L847.2 301.6 L850.4 303.2 L852.8 305.2 L853.6 308.4 L853.2 310.8 L854.4 313.2 L855.6 314.8 L855.2 316.4 L853.6 317.2 L853.6 319.6 L854.4 321.2 L856 322.8 L856.8 325 L856.8 327 L863.2 326.6 L864.4 330.2 L864.8 334.2 L866 337.4 L868.8 340.6 L869.6 342.6 L868 341.8 L863.6 341.4 L861.6 343.8 L859.2 345.8 L857.6 348.2 L854.4 348.2 L853.2 345.8 L852 344.2 L853.2 347 L854.4 350.2 L857.6 349 L861.6 347.8 L865.2 347 L868 347.8 L866.8 350.2 L866.8 353.4 L868 352.6 L868.4 349.4 L870 347.4 L872 349 L872.8 352.6 L871.2 355.8 L869.6 358.6 L867.6 361.4 L863.6 361.4 L860.4 361 L858.8 359.4 L857.6 361.4 L854.4 362.2 L850.8 361 L854.4 363 L858.4 363.4 L860.4 365 L860.4 367.8 L859.2 370.2 L856.8 372.2 L853.6 371.4 L851.6 369.4 L854.4 372.2 L857.6 372.6 L860.8 371.4 L863.6 370.2 L865.2 371.8 L864.4 374.2 L863.2 376.2 L861.2 378.2 L857.6 378.6 L853.6 379.4 L850.8 381.4 L848.8 383 L847.2 380.2 L848 383.4 L846.4 386.2 L844 390 L841.3 395.1 L840.3 399.7 L831.3 401.7 L825.3 407.1 L821.2 413.1 L820.2 419.1 L817.2 424.1 L810.2 431.1 L806.2 436.1 L800.2 440.1 L796.2 442.1 L794.2 445.2 L793.2 450.2 L791.2 456.2 L789.2 464.2 L788.2 470.2 L786.6 476.2 L787.6 482.2 L789.2 489.2 L794.2 500.3 L800.2 510.3 L806.2 520.3 L811.2 524.8 L813.6 528 L814.4 534.4 L819.2 544 L824 552 L828 559.2 L830.4 566.4 L831.2 576 L831.2 584 L828.8 590.4 L829.6 596 L828.8 597.6 L822.4 601.6 L816 603.5 L812.8 602.9 L812.5 600 L810.4 597.6 L807.2 592 L803.2 588.8 L798.4 586.4 L795.2 582.4 L793.6 577.6 L792 574.4 L792.8 572 L790.4 573.6 L790.4 577.6 L788 577.6 L788 573.6 L788.8 567.2 L786.4 568.8 L783.2 566.4 L779.2 560.8 L774.4 556.5 L776.8 552 L778.9 548.8 L776 548 L775.2 551.2 L771.2 551.2 L770.4 545.6 L770.9 541.6 L771.5 534.4 L771.2 527.2 L768 522.4 L760.8 517.6 L754.4 512 L748.8 506.4 L744 503.7 L739.2 503.2 L735.2 504.8 L733.6 508 L728 510.4 L723.2 512.8 L720 513.6 L715.4 513.2 L710.4 506.2 L707.4 503.2 L700.4 501.2 L696.4 499.2 L690.3 500.2 L682.3 502.2 L674.3 504.2 L669.3 505.2 L665.3 500.2 L662.7 497.2 L660.3 504.2 L656.3 505.2 L648.3 505.2 L640.2 507.2 L634.2 510.2 L632.2 513.2 L637.2 515.2 L636.2 520.2 L632.2 524.2 L632.2 527.3 L638.2 529.3 L645.3 532.3 L642.2 536.3 L639.2 537.3 L637.2 533.3 L632.2 530.3 L626.2 526.7 L623.2 528.3 L624.2 534.3 L620.2 535.3 L617.2 532.3 L612.2 535.3 L606.2 534.7 L602.2 532.3 L600.2 528.3 L595.2 525.3 L591.1 523.2 L588.1 521.2 L584.1 524.2 L586.1 527.3 L580.1 527.3 L572.1 527.3 L566.1 525.3 L560.1 523.8 L554.1 523.8 L549.1 525.3 L540.4 528.2 L534.3 531.2 L528.3 536.2 L520.3 543.2 L512.3 548.2 L504.3 552.2 L498.3 555.3 L492.3 560.3 L486.3 567.3 L482.2 574.3 L479.2 582.3 L480.2 590.3 L481.8 598.3 L483.2 607.4 L478.2 610.4 L473.2 608.4 L464.2 606.4 L454.2 602.3 L444.2 597.3 L441.2 590.3 L437.2 582.3 L436.2 573.3 L429.1 566.3 L423.1 556.3 L419.1 548.2 L414.1 537.2 L408.1 529.2 L401.1 522.2 L394.1 520.2 L384 518.2 L377 521.2 L373 527.2 L370 533.2 L365 536.2 L356.4 531.9 L348.3 527.3 L342.3 521.3 L338.3 514.3 L337.3 506.3 L334.3 497.2 L326.3 491.2 L318.3 482.2 L310.3 474.2 L305.3 467.8 L274.2 464.6 L273.2 474.2 L257.2 472.6 L219.1 467.2 L219.3 466.7 L154.2 428.2 L158.2 423.2 L111.7 418.2 L109.7 415.2 L110.5 410.1 L109.1 402.1 L105.1 395.1 L99.1 388.1 L94.5 387.1 L94.1 382.1 L92.1 379.1 L83 376.1 L80 370.1 L75 366.1 L68 363 L66.1 362.3 L59.1 356.3 L61.1 346.3 L58.1 339.3 L53.1 328.3 L49.1 317.3 L47.7 309.2 L51.1 304.2 L51.1 300.2 L46.1 294.2 L44 288.2 L45.1 279.2 L42 273.2 L38.4 271.2 L40 267.2 L39 262.1 L36 256.1 L33 248.1 L33.6 239.1 L36 233.1 L35 226.1 L31.6 216.1 L31.6 210 L35 206 L40 198 L43.6 190 L42.6 186.3 L42.6 178.3 L45.1 168.3 L45.1 159.3 L53.1 148.3 L57.1 140.2 L62.1 128.2 L68.1 112.2 L73.1 98.2 L74.5 88.1 L76.1 84.1 L78.1 80.1 L77.1 75.1 L81.1 73.7 L78.1 70.1 L79.5 56.1 L78.1 46.1 L79.3 40 L82 41.8 L85.6 44.8 L88 47.2 L92.2 49 L95.8 50.8 L100 51.4 L102.4 54.4 L104.8 54.4 L105.4 53.2 L107.2 50.2 L109.6 46.6 L112.6 45.4 L112.6 40.9 L111.4 39.4 L110.8 37Z M879.5 231.1 L882 228.6 L886.1 226.6 L891.1 224.6 L895.1 223.1 L898.6 222.1 L900.6 220.1 L903.1 217.9 L901.6 220.6 L900.1 222.6 L903.1 221.1 L906.1 219.6 L909.6 218.3 L908.1 220.1 L904.6 222.6 L901.1 225.1 L897.1 228.1 L892.1 231.6 L886.1 234.6 L881 236.6 L878.5 237.1 L876.5 236.6Z M926.1 207.1 L928.1 204.6 L930.6 204.6 L929.1 206.1 L926.6 207.6Z M936.2 205.1 L938.7 202.6 L939.7 205.6 L937.7 205.9Z M611.1 112.1 L617.1 108.1 L622.1 105.7 L621.1 107.7 L615.1 111.1Z M944 131.6 L945.3 128.8 L948.1 127.7 L948.8 130.5 L946.3 133Z M941.3 134.1 L942.7 133.6 L943 135.3 L941.8 135.5Z" fill="none" stroke="#4a4a4a" stroke-width="0.75" stroke-linejoin="round"/>
<g>
<path d="M74.5 88.1 L84.1 91.1 L89.1 95.2 L91.1 100.2 L91.1 106.2 L97.2 111.2 L104.2 110.2 L114.2 113.8 L124.2 114.2 L129.2 115.8 L140.2 114.6 L150.3 115.2 L160.3 117.2 L180.3 121.8" fill="none" stroke="#4a4a4a" stroke-width="0.55" stroke-linejoin="round" />
<path d="M194.3 57.1 L180.3 121.8 L186.3 131.2 L178.3 144.2 L169.3 156.3 L172.3 162.3 L168.3 170.3 L160.3 207.4 L160.3 209" fill="none" stroke="#4a4a4a" stroke-width="0.55" stroke-linejoin="round" />
<path d="M43.6 179.3 L109.2 197.4 L111.2 198 L160.3 209 L208.4 220.1 L208.4 219.7 L257.1 227.7" fill="none" stroke="#4a4a4a" stroke-width="0.55" stroke-linejoin="round" />
<path d="M208.4 60.1 L204 81.1 L207.6 89.1 L206 95.2 L212 102.2 L218 113.2 L224 116.2 L220 126.2 L215.6 138.2 L219 141.8 L225.7 138.2 L228.1 148.3 L231.1 158.3 L235.1 161.3 L237.1 169.9 L246.1 168.3 L259.1 169.9 L262.1 166.3 L265.7 173.3" fill="none" stroke="#4a4a4a" stroke-width="0.55" stroke-linejoin="round" />
<path d="M268.1 161.3 L378.4 174.7" fill="none" stroke="#4a4a4a" stroke-width="0.55" stroke-linejoin="round" />
<path d="M268.1 161.3 L265.7 173.3 L257.1 227.7 L254.1 250.5" fill="none" stroke="#4a4a4a" stroke-width="0.55" stroke-linejoin="round" />
<path d="M386.4 86.5 L381.4 153.3 L378.4 174.7 L375.4 219.7 L371.3 264.5" fill="none" stroke="#4a4a4a" stroke-width="0.55" stroke-linejoin="round" />
<path d="M381.4 153.3 L498.2 159.8" fill="none" stroke="#4a4a4a" stroke-width="0.55" stroke-linejoin="round" />
<path d="M488.2 91.5 L489.8 108.1 L494.2 122.2 L495.2 142.2 L498.2 155.2 L498.2 159.8 L493.2 166.3 L499.8 172.3 L499.8 213.3 L499.8 214 L497.2 215.1 L498.2 223.1 L496.2 233.1" fill="none" stroke="#4a4a4a" stroke-width="0.55" stroke-linejoin="round" />
<path d="M499.8 214 L580 212.4 L585.1 212.3" fill="none" stroke="#4a4a4a" stroke-width="0.55" stroke-linejoin="round" />
<path d="M375.4 219.7 L380 220.1 L466.2 225.1 L474.2 230.1 L476.2 228.1 L486.2 228.5 L496.2 233.1" fill="none" stroke="#4a4a4a" stroke-width="0.55" stroke-linejoin="round" />
<path d="M496.2 233.1 L500.2 237.1 L503.2 247.1 L506.3 250.1 L507.3 259.1 L510.3 266.2 L511.3 276.2 L513.9 281.2 L518.3 290.2 L523.3 295.2 L527.3 297.2 L524.3 303.2 L528.3 309.2 L532.3 312.2 L532.7 361.3 L532.7 373.1 L536.3 394.1 L536.3 438.2" fill="none" stroke="#4a4a4a" stroke-width="0.55" stroke-linejoin="round" />
<path d="M513.3 280.2 L580 277.8 L580 277.1 L585.1 282.5" fill="none" stroke="#4a4a4a" stroke-width="0.55" stroke-linejoin="round" />
<path d="M404 289.8 L518.3 293.2" fill="none" stroke="#4a4a4a" stroke-width="0.55" stroke-linejoin="round" />
<path d="M254.1 250.5 L287.8 255.7 L371.3 264.5 L380 265.2 L404.4 267.2 L404 289.8 L399.4 357.9" fill="none" stroke="#4a4a4a" stroke-width="0.55" stroke-linejoin="round" />
<path d="M287.8 255.7 L275.2 345.9 L271.2 380 L257.2 472.6" fill="none" stroke="#4a4a4a" stroke-width="0.55" stroke-linejoin="round" />
<path d="M187.3 331.9 L200 333.9 L275.2 345.9 L382.4 357.3 L380 357.3 L399.4 357.9 L532.7 361.3" fill="none" stroke="#4a4a4a" stroke-width="0.55" stroke-linejoin="round" />
<path d="M208.4 220.1 L187.3 331.9 L185.3 342.3 L183.3 349.3 L179.3 351.9 L175.3 348.3 L171.3 349.3 L169.9 356.3 L167.3 371.4 L168.2 372.1 L169.2 380.1 L171.2 387.1 L173.8 391.1 L168.2 394.1 L164.2 402.1 L160.2 409.1 L158.2 413.1 L159.2 417.2 L162.2 420.2 L160.2 423.2 L158.2 423.2" fill="none" stroke="#4a4a4a" stroke-width="0.55" stroke-linejoin="round" />
<path d="M111.2 198 L94.5 263.1 L167.3 371.4" fill="none" stroke="#4a4a4a" stroke-width="0.55" stroke-linejoin="round" />
<path d="M382.4 357.3 L381.4 368.4 L376 430 L373 469.1 L372.4 469.2 L305.3 463.2 L305.3 467.8" fill="none" stroke="#4a4a4a" stroke-width="0.55" stroke-linejoin="round" />
<path d="M381.4 368.4 L381 368.1 L435.1 371.7 L433.7 415.2 L438.1 419.2 L444.1 418.2 L448.1 423.2 L456.2 425.2 L460.2 427.2 L466.2 425.8 L471.2 431.2 L476.2 429.2 L480.2 432.2 L485.2 434.2 L489.2 430.2 L494.2 432.2 L500.2 436.2 L508.3 433.2 L516.3 431.2 L523.3 430.6 L528.3 435.2 L536.3 438.2 L544.3 438.6 L544.7 451.2 L545.3 474.3 L550.3 482.3 L555.4 494.3 L552.3 506.4 L552.4 510.2 L552.8 518.2 L549.4 524.2" fill="none" stroke="#4a4a4a" stroke-width="0.55" stroke-linejoin="round" />
<path d="M532.7 373.1 L580 371.7 L612.5 370.3 L614.5 373.3 L609.7 381.3 L620.1 381.3" fill="none" stroke="#4a4a4a" stroke-width="0.55" stroke-linejoin="round" />
<path d="M544.7 451.2 L580 450.2 L598.2 449.1" fill="none" stroke="#4a4a4a" stroke-width="0.55" stroke-linejoin="round" />
<path d="M568 141.1 L566 143.1 L565.6 156.2 L560 159.2 L566.4 155.2 L557.4 162.2 L560.4 172.3 L559.4 184.3 L572.4 193.3 L572 194.2 L584 204.2 L586.1 212.3 L588.1 220.3 L590.1 228.3 L597.1 233.9 L603.1 240 L605.1 246 L601.1 255 L591.1 259 L593.1 268.1 L588.1 276.1 L585.1 282.1 L585.1 290.1 L590.1 300.1 L599.1 308.1 L602.1 315.2 L609.1 315.2 L610.1 320.2 L606.1 330.2 L614.1 337.2 L622.1 343.2 L625.1 354.2 L629.1 356.2 L630.1 362.2 L626.1 368.3 L622.1 378.3 L618.1 388.3 L615.1 398.3 L613.1 403.3 L608.1 410.3 L605.1 420.4 L606.2 418 L600.2 426.1 L597.2 436.1 L599.2 444.1 L598.2 449.1 L601.2 458.1 L604.2 464.1 L600.2 470.1 L597.2 478.2 L593.1 486.2 L592.1 495.2 L628.2 493.2 L627.2 500.2 L631.2 508.2 L632.2 511.2" fill="none" stroke="#4a4a4a" stroke-width="0.55" stroke-linejoin="round" />
<path d="M595.1 142.1 L600.1 147.1 L600 147.6 L614.5 151.8 L624.1 153 L631.9 155.4 L636.1 159 L636.7 165.1 L639.8 167.5 L641.6 171.1" fill="none" stroke="#4a4a4a" stroke-width="0.55" stroke-linejoin="round" />
<path d="M597.1 233.9 L643.2 231.3" fill="none" stroke="#4a4a4a" stroke-width="0.55" stroke-linejoin="round" />
<path d="M649.2 248 L653.8 301.1 L652.6 306.1 L655.2 314.1 L652.6 322.2 L648.2 328.2 L647.2 337.2" fill="none" stroke="#4a4a4a" stroke-width="0.55" stroke-linejoin="round" />
<path d="M629.1 356.2 L634.1 352.2 L641.2 354.6 L641.2 349.2 L648.2 344.2 L647.2 337.2 L651.2 335.2 L658.2 333.2 L664.2 336.2 L670.2 332.2 L674.2 334.2 L678.2 327.2 L683.2 330.2 L688.3 322.2 L692.3 312.1 L700.3 309.1 L702.3 301.7 L709.3 302.1 L714.3 307.1 L722.3 309.1 L730.3 308.1 L736.4 306.1 L742.4 312.1 L747.4 308.1 L748.4 300.1 L753.4 298.1 L755.4 290.1 L760 287.1 L756 292.2 L762 286.2 L768.1 280.2 L768.1 268.1 L769.1 258.1 L764.4 228.1" fill="none" stroke="#4a4a4a" stroke-width="0.55" stroke-linejoin="round" />
<path d="M694.3 243 L701.9 301.7" fill="none" stroke="#4a4a4a" stroke-width="0.55" stroke-linejoin="round" />
<path d="M663.2 245.6 L694.3 243 L717.3 240.3" fill="none" stroke="#4a4a4a" stroke-width="0.55" stroke-linejoin="round" />
<path d="M629.1 368.3 L650.2 367.3 L650.6 363.8 L728.3 356.2 L760 351.8 L764 351.7 L864.4 334.2" fill="none" stroke="#4a4a4a" stroke-width="0.55" stroke-linejoin="round" />
<path d="M728.3 356.2 L736.4 352.2 L744.4 342.2 L753.4 333.2 L749.4 327.2 L744.4 320.2 L742.4 312.1" fill="none" stroke="#4a4a4a" stroke-width="0.55" stroke-linejoin="round" />
<path d="M753.4 333.2 L755 332.3 L762 338.3 L770.1 334.3 L777.1 330.3 L785.1 324.2 L789.1 312.2 L792.1 301.2 L798.1 303.2 L802.1 294.2 L809.1 286.2 L811.1 278.2 L821.8 282.2 L821.2 277.2" fill="none" stroke="#4a4a4a" stroke-width="0.55" stroke-linejoin="round" />
<path d="M772.5 277.2 L790.1 274.5 L792.5 286.2 L798.1 280.2 L802.1 275.8 L810.1 272.5 L817.2 272.5 L821.2 277.2 L820 274.8 L821.6 278 L824.8 278.8 L826.4 281.2 L830.4 282.8 L833.6 284.4 L835.6 285.2 L836 286.8 L834.4 290 L832.8 294 L832.4 297.2 L834.4 298.8 L837.6 297.2 L840 298" fill="none" stroke="#4a4a4a" stroke-width="0.55" stroke-linejoin="round" />
<path d="M776.1 219 L776.1 224 L849.2 211 L855.2 216 L861.2 222.4 L858.2 230.1 L857.2 238.1 L862.2 243.1 L868.3 249.1 L867.2 250 L863.6 254.8 L861.6 257.2 L858.4 259.2 L857.2 261.2 L856.8 264.4 L858.4 267.2" fill="none" stroke="#4a4a4a" stroke-width="0.55" stroke-linejoin="round" />
<path d="M856.8 259.2 L853.6 260 L852 262.8 L820 269.2 L772.5 277.2 L769.1 258.1" fill="none" stroke="#4a4a4a" stroke-width="0.55" stroke-linejoin="round" />
<path d="M861.2 222.4 L876.3 227.1" fill="none" stroke="#4a4a4a" stroke-width="0.55" stroke-linejoin="round" />
<path d="M852.8 263.6 L860 290.4 L871.2 288.4" fill="none" stroke="#4a4a4a" stroke-width="0.55" stroke-linejoin="round" />
<path d="M613.1 403.3 L651.2 400.9 L698.3 397.3 L721.3 393.9 L742.4 390.7 L755.1 384.4 L780.2 382 L785.2 388 L806.2 385.6 L829.9 401.7" fill="none" stroke="#4a4a4a" stroke-width="0.55" stroke-linejoin="round" />
<path d="M721.3 393.9 L721.9 388.3 L730.3 380.3 L740.4 374.3 L748.4 366.3 L755 362.3 L763 358.3 L764 351.7" fill="none" stroke="#4a4a4a" stroke-width="0.55" stroke-linejoin="round" />
<path d="M652.2 401.3 L651.3 401.6 L651.3 476.2 L655.9 504.6" fill="none" stroke="#4a4a4a" stroke-width="0.55" stroke-linejoin="round" />
<path d="M698.3 397.3 L698.4 400 L710.4 440.1 L717.4 454.1 L715.4 466.1 L718.4 480.2 L720 485.2 L669.3 490.2 L674.3 498.2 L673.3 504.2" fill="none" stroke="#4a4a4a" stroke-width="0.55" stroke-linejoin="round" />
<path d="M717 480.2 L722 490.8 L774.1 487.2 L774.1 491.2 L777.2 491.2 L776.2 486.2 L777.2 481.8 L787.6 482.2" fill="none" stroke="#4a4a4a" stroke-width="0.55" stroke-linejoin="round" />
<path d="M742.4 390.7 L739.4 397.3 L740.1 397.1 L750.1 406.1 L760.1 415.1 L770.1 424.1 L780.2 432.1 L786.2 442.1 L791.2 450.2 L793.2 450.2" fill="none" stroke="#4a4a4a" stroke-width="0.55" stroke-linejoin="round" />
<path d="M865.3 137.8 L868.3 148.2 L871.3 164.2 L874.3 169.3 L877.3 180.3 L878.7 186.3 L879.3 202.3 L883.3 221.4" fill="none" stroke="#4a4a4a" stroke-width="0.55" stroke-linejoin="round" />
<path d="M893.3 130.6 L895.3 139.2 L889.3 148.2 L888.3 164.2 L890.3 183.3" fill="none" stroke="#4a4a4a" stroke-width="0.55" stroke-linejoin="round" />
<path d="M898.7 122 L910.3 158.2 L917.4 169.3" fill="none" stroke="#4a4a4a" stroke-width="0.55" stroke-linejoin="round" />
<path d="M878.7 186.3 L890.3 183.3 L910.3 179.7 L915.4 174.3 L918.4 175.3" fill="none" stroke="#4a4a4a" stroke-width="0.55" stroke-linejoin="round" />
<path d="M879.3 202.3 L906.3 196.3 L913.3 194.7 L915.4 203.3" fill="none" stroke="#4a4a4a" stroke-width="0.55" stroke-linejoin="round" />
<path d="M906.3 196.3 L909.3 211.3" fill="none" stroke="#4a4a4a" stroke-width="0.55" stroke-linejoin="round" />
</g>
<path d="M109.6 46.6 L109.9 48.1 L111.4 49 L111.4 52 L110.2 52.6 L111.4 54.4 L111.4 56.2 L112.6 57.7 L111.4 59.8 L109.6 61 L108.4 63.4 L108.4 66.4 L107.2 69.4 L106 71.8 L103.6 72.4 L102.4 74.2 L100.6 75.4 L98.2 74.2 L96.4 73.6 L97 71.8 L99.4 70.6 L100.6 71.8 L102.4 71.2 L104.2 70.6 L104.8 67 L105.4 64 L106.6 61.6 L106 59.8 L105.4 57.4 L105.4 53.2" fill="none" stroke="#4a4a4a" stroke-width="0.55" stroke-linejoin="round" />
<path d="M106 60.4 L103.6 61.6 L100 64 L97 66.4 L95.5 68.2 L96.4 69.1 L98.8 68.2 L98.2 67 L101.2 64.6 L104.2 62.2" fill="none" stroke="#4a4a4a" stroke-width="0.55" stroke-linejoin="round" />
<path d="M102.7 42.4 L104.2 41.2 L106.6 40.9 L108.4 42.1 L107.2 43 L105.4 43 L106 44.8 L106.6 46.3 L105.4 46 L104.2 44.5 L102.7 42.4" fill="none" stroke="#4a4a4a" stroke-width="0.55" stroke-linejoin="round" />
<path d="M107.2 50.2 L109 49 L110.8 50.2 L111.4 52 L109.6 53.2 L108.4 56.2 L110.2 57.4 L112 56.2 L111.4 58.6 L109 59.8 L107.8 57.4 L107.5 53.8 L107.2 50.2" fill="none" stroke="#4a4a4a" stroke-width="0.55" stroke-linejoin="round" />
<path d="M875 222.1 L877 224.6 L878 230.1 L877.5 234.1 L876 236.1" fill="none" stroke="#4a4a4a" stroke-width="0.8" stroke-linejoin="round" />
<path d="M883 221.1 L880.5 224.9" fill="none" stroke="#4a4a4a" stroke-width="0.55" stroke-linejoin="round" />
<path d="M914.6 199.6 L916.1 202.1 L917.6 200.1 L919.1 203.1 L917.1 205.1 L915.6 203.6 L916.6 206.1" fill="none" stroke="#4a4a4a" stroke-width="0.6" stroke-linejoin="round" />
<path d="M913.1 195.1 L914.9 200.1" fill="none" stroke="#4a4a4a" stroke-width="0.55" stroke-linejoin="round" />
<path d="M47.1 272.6 L50.1 271.8 L52.1 274.2 L49.7 276.6 L50.1 286.2 L47.7 282.6 L46.5 277.2Z" fill="#ffffff" stroke="#4a4a4a" stroke-width="0.6"/>
<path d="M52.1 274.2 L57.1 275.2 L63.1 277.2" fill="none" stroke="#4a4a4a" stroke-width="0.6" stroke-linejoin="round" />
<path d="M527 526.7 L530 524.6 L532.4 526.3 L531.6 529.9 L534 530.7 L530 533.9 L528 530.3Z" fill="#ffffff" />
<path d="M617.2 510.6 L621.2 507.8 L626.2 509.2 L630.2 511.2 L626.2 514.2 L620.2 515.2Z" fill="#ffffff" stroke="#4a4a4a" stroke-width="0.6"/>
<path d="M807.2 521.9 L811.8 526.1 L814.4 530.9 L815.4 535.2 L820.2 543.7 L825 551.7 L828.8 558.7" fill="none" stroke="#4a4a4a" stroke-width="0.6" stroke-linejoin="round" />
<path d="M801.6 618.4 L807.2 616 L812.8 613.1 L819.2 610.4 L824 607.2 L828.8 599.2" fill="none" stroke="#4a4a4a" stroke-width="0.9" stroke-linejoin="round" stroke-dasharray="3 2.5"/>
<path d="M527.3 526.6 L529.9 525.8 L530.7 528.2 L532.7 524.6 L533.9 528.6 L536.4 529.4 L531.9 532.6 L529.3 531.2Z" fill="#ffffff" stroke="#4a4a4a" stroke-width="0.45"/>
<path d="M494.7 548.6 L498.3 550.2 L502.3 549.8 L507.3 550.2 L503.3 552.2 L499.3 553.8 L496.7 551.4Z" fill="#ffffff" stroke="#4a4a4a" stroke-width="0.45"/>
<path d="M490.3 555.9 L493.3 554.6 L494.7 557.5 L492.3 559.3Z" fill="#ffffff" stroke="#4a4a4a" stroke-width="0.45"/>
<path d="M483.2 561.3 L488.3 559.9 L489.3 562.3 L486.3 564.7 L484.6 563.1Z" fill="#ffffff" stroke="#4a4a4a" stroke-width="0.45"/>
<path d="M478.2 567.3 L482.6 566.3 L485.3 567.9 L482.2 571.3 L480.2 569.5Z" fill="#ffffff" stroke="#4a4a4a" stroke-width="0.45"/>
<path d="M471.8 576.9 L475.8 578.7 L479.8 578.3 L478.6 580.7 L474.6 580.7Z" fill="#ffffff" stroke="#4a4a4a" stroke-width="0.45"/>
<path d="M477.4 582.3 L479.2 581.7 L480.8 590.3 L482.4 599.3 L483.4 606.8 L482 606.8 L480.2 598.3 L478.4 590.3Z" fill="#ffffff" stroke="#4a4a4a" stroke-width="0.45"/>
<path d="M606.2 418 L605.25 419.39 L604.13 420.65 L602.72 421.7 L602.24 423.43 L601.19 424.74 L600.2 426.1 L599.58 427.73 L599.62 429.56 L598.68 431.1 L598.03 432.71 L597.31 434.32 L597.2 436.1 L598.15 437.56 L598.27 439.23 L598.96 440.76 L598.38 442.61 L599.2 444.1 L598.6 445.71 L599.16 447.56 L598.2 449.1 L598.16 451.11 L598.78 452.91 L599.8 454.57 L600.45 456.35 L601.2 458.1 L602.38 459.39 L603.31 460.8 L603.41 462.62 L604.2 464.1 L603.71 465.94 L602.56 467.34 L601.5 468.8 L600.2 470.1 L600.22 471.95 L599.05 473.36 L598.48 474.99 L597.35 476.41 L597.2 478.2 L596.36 479.79 L595.39 481.31 L594.74 483 L593.72 484.5 L593.1 486.2 L592.96 488.01 L593.01 489.83 L591.81 491.52 L591.61 493.32 L592.1 495.2" fill="none" stroke="#4a4a4a" stroke-width="0.55" stroke-linejoin="round" />
<path d="M629.1 356.2 L628.96 358.28 L629.48 360.25 L630.1 362.2 L629.32 363.87 L628.42 365.46 L627.35 366.94 L626.1 368.3 L625.99 370.19 L624.42 371.49 L624.23 373.35 L622.98 374.79 L622.91 376.69 L622.1 378.3 L620.84 379.73 L620.32 381.45 L620.75 383.56 L619.81 385.12 L618.23 386.42 L618.1 388.3 L617.64 389.98 L616.46 391.44 L616.74 393.34 L616.67 395.14 L615.43 396.58 L615.1 398.3 L614.07 399.82 L614.07 401.75 L613.1 403.3 L612.57 405.04 L611.29 406.24 L609.57 407.12 L608.81 408.69 L608.1 410.3 L608.11 412.14 L607.44 413.77 L607.14 415.51 L606.69 417.21 L605.2 418.6 L605.1 420.4 L604.93 422.53 L603.82 424.38 L603.3 426.4" fill="none" stroke="#4a4a4a" stroke-width="0.55" stroke-linejoin="round" />
<path d="M433.7 415.2 L435.22 416.48 L436.92 417.55 L438.1 419.2 L440.15 419.19 L442.02 418.02 L444.1 418.2 L444.94 419.58 L446.52 420.36 L447.19 421.88 L448.1 423.2 L449.82 423.21 L451.42 423.69 L452.8 425.04 L454.48 425.21 L456.2 425.2 L458.32 425.95 L460.2 427.2 L462.32 427.26 L464.11 425.87 L466.2 425.8 L467.56 427.05 L468.34 428.84 L469.8 429.98 L471.2 431.2 L472.66 430.01 L474.79 430.5 L476.2 429.2 L477.77 429.88 L479.07 430.93 L480.2 432.2 L481.72 433.22 L483.62 433.31 L485.2 434.2 L486.33 432.67 L487.44 431.11 L489.2 430.2 L491.08 430.33 L492.49 431.64 L494.2 432.2 L495.9 432.9 L497.12 434.32 L498.8 435.05 L500.2 436.2 L501.8 435.54 L503.66 435.6 L505.05 434.38 L506.72 433.9 L508.3 433.2 L510.02 433.3 L511.39 431.97 L512.98 431.53 L514.84 432.15 L516.3 431.2 L518.09 431.49 L519.77 430.55 L521.51 430.32 L523.3 430.6 L524.32 432 L525.38 433.35 L527.34 433.74 L528.3 435.2 L529.68 436.39 L531.31 436.9 L533.05 437.14 L534.74 437.5 L536.3 438.2 L537.93 437.73 L539.53 437.71 L541.07 439.09 L542.72 438.15 L544.3 438.6" fill="none" stroke="#4a4a4a" stroke-width="0.55" stroke-linejoin="round" />
<path d="M545.3 474.3 L546.06 476.05 L547.59 477.32 L547.92 479.34 L549.19 480.77 L550.3 482.3 L551.2 483.69 L551.99 485.12 L551.93 486.92 L553.41 488.06 L553.84 489.65 L554.05 491.33 L554.31 492.99 L555.4 494.3 L554.8 495.99 L554.81 497.83 L553.51 499.34 L554.03 501.32 L553.84 503.11 L553.06 504.75 L552.3 506.4 L552.38 508.06 L552.92 509.71 L552.75 511.37 L552.48 513.03 L552.2 514.69 L552.82 516.34 L552.3 518" fill="none" stroke="#4a4a4a" stroke-width="0.55" stroke-linejoin="round" />
<path d="M647.2 337.2 L649.11 336.03 L651.2 335.2 L653.1 335.23 L654.88 334.85 L656.51 333.91 L658.2 333.2 L659.58 334.19 L661.15 334.81 L662.93 335 L664.2 336.2 L665.34 334.66 L666.83 333.64 L669.02 333.68 L670.2 332.2 L672.07 333.45 L674.2 334.2 L675.56 333.12 L675.22 331.07 L676.77 330.09 L677.38 328.59 L678.2 327.2 L679.7 328.48 L681.66 328.98 L683.2 330.2 L684.81 328.98 L684.74 326.68 L686.31 325.43 L687.56 323.98 L688.3 322.2 L689.49 320.72 L689.94 318.96 L690.57 317.26 L691.35 315.62 L692.17 314 L692.3 312.1 L693.83 311.31 L695.59 311.14 L697.3 310.83 L698.88 310.19 L700.3 309.1 L700.69 307.22 L701.69 305.51 L702.29 303.68 L702.3 301.7" fill="none" stroke="#4a4a4a" stroke-width="0.55" stroke-linejoin="round" />
<path d="M653.8 301.1 L653.3 302.74 L652.83 304.39 L652.6 306.1 L653.28 307.65 L653.53 309.34 L654.02 310.95 L655.24 312.32 L655.2 314.1 L654.49 315.66 L653.5 317.13 L653.13 318.8 L652.82 320.48 L652.6 322.2 L651.63 323.79 L650.13 325.01 L649.21 326.63 L648.2 328.2 L648.08 330.01 L647.33 331.75 L648.18 333.66 L647.05 335.36 L647.2 337.2" fill="none" stroke="#4a4a4a" stroke-width="0.55" stroke-linejoin="round" />
<path d="M168.2 372.1 L169.05 373.62 L168.46 375.32 L168.83 376.9 L169.37 378.45 L169.2 380.1 L169.43 381.93 L170.2 383.6 L170.55 385.39 L171.2 387.1 L172.01 389.42 L173.8 391.1 L172.09 392.4 L170.39 393.7 L168.2 394.1 L167.65 395.82 L166.38 397.19 L166.17 399.09 L165.41 400.71 L164.2 402.1 L162.91 403.22 L162.41 404.79 L161.87 406.34 L160.52 407.43 L160.2 409.1 L159.42 411.21 L158.2 413.1 L158.47 415.21 L159.2 417.2 L161 418.4 L162.2 420.2 L161.28 421.75 L160.2 423.2 L158.2 423.2" fill="none" stroke="#4a4a4a" stroke-width="0.55" stroke-linejoin="round" />
<path d="M488.2 91.5 L487.93 93.2 L487.94 94.88 L488.15 96.53 L489 98.12 L488.88 99.81 L489.42 101.44 L489.83 103.07 L489.48 104.78 L489.17 106.49 L489.8 108.1 L489.82 109.81 L490.5 111.32 L490.67 112.99 L492.05 114.27 L492.69 115.8 L492.8 117.48 L493.52 118.97 L494.09 120.51 L494.2 122.2 L494.4 123.86 L494.19 125.54 L494.46 127.2 L494.79 128.85 L494.14 130.56 L494.03 132.23 L494.85 133.86 L495.46 135.5 L495.61 137.17 L494.51 138.89 L495.76 140.5 L495.2 142.2 L495.29 143.89 L495.85 145.47 L496.59 147.01 L496.3 148.79 L497.73 150.17 L497.95 151.84 L497.89 153.56 L498.2 155.2 L498.87 157.5 L498.2 159.8" fill="none" stroke="#4a4a4a" stroke-width="0.55" stroke-linejoin="round" />
<path d="M499.8 214 L497.2 215.1 L496.94 216.76 L497.96 218.25 L498.3 219.84 L498.63 221.42 L498.2 223.1 L497.69 224.73 L497.61 226.45 L497.02 228.06 L496.65 229.72 L496.11 231.35 L496.2 233.1 L497.08 234.89 L498.68 235.95 L500.2 237.1 L501.1 238.65 L501.23 240.42 L502.13 241.97 L502.86 243.57 L502.74 245.42 L503.2 247.1 L504.54 248.82 L506.3 250.1 L506.95 251.85 L507.02 253.66 L507.11 255.48 L506.83 257.33 L507.3 259.1 L508.02 260.89 L508.65 262.71 L509.22 264.56 L510.3 266.2 L510.62 267.85 L510.23 269.57 L510.23 271.26 L511.54 272.81 L510.53 274.59 L511.3 276.2 L511.89 278.01 L513.49 279.29 L513.9 281.2 L514.69 282.67 L515.21 284.28 L515.58 285.95 L516.99 287.12 L517.48 288.74 L518.3 290.2 L519.17 291.83 L520.51 292.99 L521.61 294.39 L523.3 295.2 L525.32 296.15 L527.3 297.2 L526.36 298.61 L526.17 300.38 L524.77 301.56 L524.3 303.2 L524.93 304.95 L526.14 306.31 L527.05 307.87 L528.3 309.2 L529.87 309.88 L530.63 311.65 L532.3 312.2" fill="none" stroke="#4a4a4a" stroke-width="0.55" stroke-linejoin="round" />
<path d="M208.4 60.1 L207.4 61.58 L207.07 63.19 L207.33 64.94 L206.65 66.48 L206.95 68.23 L205.81 69.67 L205.54 71.31 L205.9 73.07 L205.93 74.76 L205.1 76.27 L204.61 77.85 L203.97 79.41 L204 81.1 L204.74 82.69 L206.04 84.03 L205.77 86.08 L207.44 87.25 L207.6 89.1 L206.66 91.03 L206.98 93.28 L206 95.2 L207.38 96.45 L208.09 98.26 L209.98 99.07 L211.17 100.48 L212 102.2 L212.84 103.78 L213.44 105.49 L214.15 107.14 L215.2 108.61 L215.74 110.36 L217.15 111.62 L218 113.2 L219.22 114.51 L221.26 114.18 L222.67 115.1 L224 116.2 L223.3 117.85 L222.94 119.64 L221.7 121.08 L221.15 122.79 L220.64 124.52 L220 126.2 L218.92 127.75 L218.66 129.6 L218.36 131.43 L217.64 133.11 L216.4 134.61 L215.7 136.29 L215.6 138.2 L217.03 139.12 L217.51 140.94 L219 141.8 L220.99 141.48 L222.37 140.03 L224.07 139.19 L225.7 138.2 L226.51 139.79 L226.45 141.58 L226.9 143.25 L227.16 144.97 L228.34 146.46 L228.1 148.3 L227.97 150.16 L229.08 151.64 L229.73 153.26 L229.7 155.09 L230.52 156.66 L231.1 158.3 L232.44 159.29 L233.61 160.51 L235.1 161.3 L236.09 162.88 L235.85 164.75 L236.42 166.43 L236.08 168.32 L237.1 169.9 L239 170.16 L240.64 168.94 L242.49 168.9 L244.21 168.11 L246.1 168.3 L247.74 168.41 L249.3 169.14 L250.91 169.46 L252.6 169.07 L254.26 169.05 L255.9 169.07 L257.45 169.86 L259.1 169.9 L261.06 168.48 L262.1 166.3 L263.46 167.81 L263.55 169.98 L265.39 171.24 L265.7 173.3" fill="none" stroke="#4a4a4a" stroke-width="0.55" stroke-linejoin="round" />
<text x="3.5" y="632" font-size="17.5" font-style="italic" fill="#8c8c8c" textLength="197.5" lengthAdjust="spacingAndGlyphs">AK and HI not to scale</text>
<g transform="translate(966.9,615.1)">
<circle r="19.1" fill="#ffffff"/>
<path d="M-14.6 -10.8 A18.2 18.2 0 0 1 14.2 -11.2 C11.6 -8.2 8.6 -3.7 4.9 0.7 C3.5 2.3 2 3.1 0.7 3.1 C-1.5 3 -3.5 2.6 -4.9 1.5 C-8.6 -3 -11.6 -7.5 -14.6 -10.8Z" fill="#263c86"/>
<path d="M-17.5 -5.2 C-14.6 -3 -10.8 0.7 -7.1 4.5 C-5.5 6 -3 7.4 -1.1 7.5 C1 7.4 3.5 5.8 5.6 3.7 C8.6 0.7 12.3 -3.7 16.5 -7.8 A18.2 18.2 0 1 1 -17.5 -5.2Z" fill="#0a7bc8"/>
<path d="M-5.8 7.9 C-2 7.4 3 5.8 7.9 3.5 L8.2 4.5 C4 6.6 -1 8.4 -5.8 7.9Z" fill="#ffffff"/>
<text x="-0.5" y="-6.3" font-size="6.6" font-weight="bold" fill="#ffffff" text-anchor="middle" textLength="15" lengthAdjust="spacingAndGlyphs">NOAA</text>
</g>
</g>
<g clip-path="url(#cak)">
<rect x="0" y="642" width="297" height="237" fill="#f4f4f4"/>
<g filter="url(#bl2)">
<path d="M0 642 L7.5 642 L15 646.5 L22.5 652.5 L27.1 653.3 L26.3 658.5 L27.8 663 L32.3 662.3 L36.1 656.3 L45.1 661.5 L54.1 669.8 L60.1 677.3 L64.6 685.6 L69.1 691.6 L73.7 696.1 L72.9 702.1 L75.2 705.1 L78.2 702.1 L84.2 705.1 L87.9 711.1 L89.4 715.7 L84.2 718.7 L78.2 721.7 L74.4 724.7 L73.7 728.4 L69.9 727.7 L66.1 723.2 L63.1 718.7 L62.4 713.4 L57.9 711.9 L54.1 709.6 L53.4 705.1 L50.4 705.1 L49.6 708.9 L46.6 712.6 L40.6 714.1 L36.1 712.6 L33.8 717.2 L35.3 723.9 L34.6 730.7 L30.8 734.4 L27.1 730.7 L21 729.9 L0 729.9Z" fill="#e1e1e1" />
<path d="M72.1 661.5 L74.4 657 L77 658.5 L76.7 662.3Z" fill="#e1e1e1" />
<path d="M200.4 682.6 L210 684.4 L218.4 685 L221.4 683.8 L219.6 681.4 L222.6 677.2 L226.8 676 L230.4 671.2 L235.2 665.8 L237.6 667.6 L240 661.6 L244.8 663.4 L249.6 666.4 L252 659.8 L256.8 664 L259.2 659.2 L264 658 L273.6 656.8 L282 655.6 L288 652.6 L292.8 653.8 L293.4 659.2 L298.2 658 L298 800 L295.8 795.6 L293.2 789.6 L288.1 787.9 L279.6 783.7 L271.1 777.7 L262.6 772.6 L254.1 767.5 L250.7 765.8 L247.3 769.2 L246.5 775.2 L242.2 773.5 L236.3 769.2 L232 765.8 L229.5 766.7 L225.2 767.7 L221.8 768.7Z" fill="#e1e1e1" />
<path d="M238.8 641.2 L255.6 641.2 L252 648.4 L247.2 646.6 L240 645.4Z" fill="#e1e1e1" />
<path d="M274.8 641.2 L298.2 641.2 L298.2 650.8 L291.6 651.4 L289.2 648.4 L283.2 650.8 L277.2 649.6 L274.2 647.2Z" fill="#e1e1e1" />
</g>
<path d="M226.2 686.2 L228 691.6 L234 695.8 L237.6 695.2 L242.4 691.6 L247.2 694 L254.4 698.8 L256.8 702.4 L264 703.6 L273.6 704.2 L278.4 706.6" fill="none" stroke="#ebebeb" stroke-width="0.9" stroke-linejoin="round" />
<path d="M221.8 768.7 L225.2 767.7 L229.5 766.7 L232 765.8 L236.3 769.2 L242.2 773.5 L246.5 775.2 L247.3 769.2 L250.7 765.8 L254.1 767.5 L262.6 772.6 L271.1 777.7 L279.6 783.7 L288.1 787.9 L293.2 789.6 L295.8 795.6 L294.4 801.3 L289 801.3 L285.6 804.7 L279.6 805.6 L274.5 801.3 L269.4 797.9 L264.3 792.8 L259.2 788.6 L252.4 784.3 L247.3 780.1 L242.2 777.5 L237.1 775 L232 773.3 L229.5 772.4 L225.2 771.8 L221.8 771.8Z" fill="#ffffff" stroke="#8a8a8a" stroke-width="0.5"/>
<g clip-path="url(#caks)">
<rect x="0" y="642" width="297" height="237" fill="#ffffff"/>
<path d="M215 690 L213.4 691.3 L211.1 693.1 L208.5 695.2 L206.2 697.2 L204.5 698.7 L203.9 699.6 L203.9 700.1 L204.2 700.5 L204.2 701 L203.4 701.8 L201.6 703 L199.2 704.5 L196.4 706 L193.5 707.7 L190.8 709.2 L188.2 710.6 L185.6 712.1 L183 713.5 L180.5 715 L178.2 716.5 L176.1 718.1 L174 719.6 L172.1 721.3 L170.3 723 L168.7 724.9 L167.2 727 L165.8 729.2 L164.6 731.5 L163.5 733.9 L162.4 736.5 L161.4 739.3 L160.4 742.4 L159.6 745.6 L158.8 748.6 L158.2 751.2 L157.7 753.4 L157.4 755.4 L157.2 757.1 L157 758.6 L156.8 760 L156.6 761 L156.3 761.5 L156.1 762 L155.9 762.8 L155.8 764.4 L155.7 767.1 L155.7 770.8 L155.7 774.7 L155.7 778.4 L155.8 781.3 L155.9 783.1 L155.9 784.3 L156 785.1 L156.2 786.1 L156.5 787.6 L157.1 789.9 L157.9 792.7 L158.7 795.6 L159.5 798.2 L160 800 L170 848 L0 848 L0 642 L215 642Z" fill="#fee6ab" />
<path d="M206 686 L205.2 686.7 L204.1 687.6 L202.8 688.8 L201.2 690 L199.2 691.3 L196.8 692.6 L193.9 694.1 L190.8 695.6 L187.6 697.1 L184.5 698.7 L181.5 700.3 L178.5 702 L175.5 703.7 L172.6 705.4 L169.8 707.1 L167.1 708.7 L164.5 710.4 L162 712 L159.6 713.7 L157.2 715.5 L154.9 717.5 L152.6 719.5 L150.5 721.7 L148.5 723.9 L146.7 726 L145.2 728 L143.8 730 L142.6 732 L141.5 734.1 L140.4 736.5 L139.2 739.3 L138.1 742.4 L136.9 745.5 L135.9 748.6 L135.1 751.2 L134.5 753.3 L134.1 755.2 L133.7 756.8 L133.4 758.3 L133 760 L132.5 761.6 L131.9 763.1 L131.3 764.6 L130.7 766.4 L130.1 768.6 L129.5 771.5 L128.8 774.9 L128.2 778.5 L127.5 782.1 L126.9 785.5 L126.3 788.5 L125.8 791.4 L125.2 794.2 L124.7 797 L124 800 L123.2 803.4 L122.2 807.2 L121.3 811 L120.5 814.2 L119.9 816.5 L117 848 L0 848 L0 642 L206 642Z" fill="#fdc87b" />
<path d="M196 676 L195.1 676.7 L194 677.7 L192.5 678.9 L190.8 680.3 L188.7 681.9 L186.3 683.7 L183.5 685.8 L180.4 688 L177.2 690.2 L174 692.4 L170.7 694.5 L167.2 696.7 L163.7 698.9 L160.3 700.9 L157.2 702.9 L154.4 704.7 L151.9 706.3 L149.4 707.9 L147.1 709.5 L144.6 711.3 L142 713.3 L139.5 715.4 L136.9 717.7 L134.4 719.8 L132 721.8 L129.7 723.7 L127.4 725.5 L125.3 727.2 L123.3 728.8 L121.5 730.2 L120.1 731.2 L119.1 731.9 L118.2 732.5 L117 733.2 L115.2 734.4 L113.1 735.8 L111 737.4 L108.3 739.3 L104.8 741.7 L100 745 L92.9 749.8 L83.9 755.9 L74.3 762.4 L65.8 768.1 L60 772 L0 800 L0 642 L196 642Z" fill="#fca25a" />
<path d="M172 672 L170.7 673.2 L168.8 674.9 L166.7 676.9 L164.5 678.9 L162.4 680.8 L160.6 682.5 L158.9 684.2 L157.1 685.9 L155.2 687.5 L153 689.2 L150.4 690.9 L147.4 692.7 L144.3 694.4 L141.2 696.1 L138.3 697.6 L135.6 699 L132.9 700.4 L130.3 701.6 L127.9 702.8 L125.7 703.9 L123.9 704.8 L122.5 705.6 L121.1 706.3 L119.5 707.1 L117.3 708.1 L114.8 709.3 L112.1 710.5 L109 711.9 L105.1 713.7 L100 716 L92.8 719.4 L83.7 723.7 L74.2 728.2 L65.8 732.2 L60 735 L0 760 L0 642 L172 642Z" fill="#f67541" />
</g>
<path d="M145 672 L149.8 674.5 L155.1 675.6 L161.4 679.8 L168.7 679.8 L178.2 681.5 L186.6 681.5 L191.8 680.2 L196 682.3 L200.2 682.5 L221.9 768.6 L220.1 771.3 L213.3 772.1 L207.4 773.5 L204.8 776.4 L203.1 773 L198 771.8 L195.5 768.7 L192.9 766.2 L187.8 765.3 L183.6 767.9 L186.1 773.8 L188.7 778.1 L184.4 775.5 L181 777.2 L175.9 780.6 L170.8 784 L167.4 786.6 L168.3 781.5 L170 775.5 L173.4 770.4 L176.8 766.2 L177.6 763.9 L172.5 766.2 L168.3 769.6 L164.9 773.8 L163.2 777.2 L160.6 781.5 L157.2 784 L155.5 787.4 L158.1 790 L160.6 789.1 L157.2 793.4 L153.8 797.6 L148.7 801.9 L143.6 805.3 L138.5 808.7 L133.4 811.2 L132.6 812.3 L126.7 816.6 L121.6 817.7 L119.9 816.6 L120.7 813.2 L125 809.8 L130.9 805.5 L136 798.7 L136.9 792.8 L141.1 788.5 L135.4 790.8 L132.2 789.8 L130.1 792.9 L126.9 788.7 L121.7 789.8 L115.3 789.8 L115.7 783 L112.7 777.3 L105.2 778.8 L102.2 775.8 L99.2 770.5 L101.5 771.3 L100.7 766.8 L98.5 764.5 L96.9 760 L99.2 756.2 L103.7 751.7 L106.7 747.2 L112 748 L115.7 744.2 L118.7 745.7 L123.3 743.5 L124 739.7 L125.5 734.4 L124 732.2 L119.5 732.9 L115.7 734.9 L112.7 734 L105.2 732.9 L101.5 730.7 L99.2 725.4 L95.4 720.9 L99.2 718.7 L105.2 716.4 L111.2 714.9 L114.5 715.7 L115 719.4 L118.7 718.7 L121.7 720.2 L125.5 720.2 L124.8 717.2 L123.3 711.9 L120.2 711.9 L116.5 710.4 L114.2 706.6 L110.5 702.1 L106.7 696.9 L108.2 693.9 L112.7 692.4 L118.7 690.1 L122.5 685.6 L127.8 680.3 L135.3 677.3 L141.3 675.8 L139.3 675.6Z M74.4 735.9 L76.7 734.9 L79.7 737.4 L81.9 736.7 L84.2 740.5 L87.9 742 L87.2 743 L83.4 744.2 L80.4 740.5 L76.7 738.9 L74.4 737.4Z M87.9 772 L91.7 771 L96.2 771.3 L96.9 774.3 L93.9 777 L90.2 775.8Z M60.9 761.5 L62.4 764.5 L64.6 765.6 L62.8 764.1Z M153 802.7 L155.5 801 L158.9 801.9 L159.8 804.4 L157.2 807.8 L153.8 807Z M106.3 820 L110.5 816.6 L117.3 814.9 L119.9 817.4 L117.3 820 L111.4 820.8 L108.8 822.5Z M91.8 825.1 L95.2 822.8 L100.3 822.5 L102.9 824.5 L98.6 826.8 L93.5 827.6Z M62.9 837 L67.2 833.6 L71.4 831.9 L76.5 831 L79.9 829.3 L83.3 831 L79.9 833.6 L74.8 834.7 L69.7 835.3 L65.5 837.5Z M4.3 830.2 L8.5 831.9 L12.8 834.1 L18.7 833.7 L25.5 834.4 L30.6 833.2 L32.3 835.8 L36.6 838.1 L30.6 837.1 L23.8 835.9 L17 835.9 L10.2 834.9 L5.1 832.9Z" fill="none" stroke="#555555" stroke-width="0.55" stroke-linejoin="round"/>
<path d="M115 715.7 L118.7 712.6 L122.5 712.6 L124.8 717.2 L125.5 720.2 L121.7 720.5 L118.7 719 L115 719.4Z" fill="#f4f4f4" />
<path d="M115.7 734.9 L119.5 732.9 L124 732.2 L125.5 734.4 L124 739.7 L123.3 743.5 L118.7 745.7 L115.7 744.2 L118.7 740.5 L119.5 736.7Z" fill="#f4f4f4" />
<path d="M262.4 772.6 L263.3 773.9 L264.2 773.8 L265.4 775 M272.4 780.7 L272.8 781.7 L273.3 781.1 L273.9 781.9 M250.6 770.4 L251.3 771.8 L252 771.1 L252.9 772.3 M253.1 775.4 L254 777 L254.8 776.2 L255.9 777.6 M274.3 781.8 L275.4 783.4 L276.5 783.3 L278 784.8 M254.1 771.4 L254.7 772.7 L255.3 772 L256.1 773.1 M250.1 774.7 L251 776.2 L251.9 775.8 L253.1 777.1 M262 788.9 L262.7 790.1 L263.5 789.8 L264.4 790.9 M284.4 793.1 L285 794.3 L285.6 793.7 L286.4 794.7 M266.9 795.3 L267.4 796.4 L267.9 795.8 L268.6 796.7 M283.1 788.4 L284.1 790 L285.1 789.8 L286.5 791.2 M279.8 789.2 L280.6 790.6 L281.5 790.2 L282.6 791.4 M286.6 802.3 L287.3 803.7 L288.1 803.1 L289.1 804.3 M265.3 792 L265.8 793 L266.2 792.4 L266.8 793.1 M255.2 771.4 L255.6 772.5 L256.1 771.7 L256.7 772.6 M253.4 776.3 L254 777.7 L254.7 776.9 L255.6 778.1 M273 800 L274 801.8 L275 801.2 L276.3 802.7 M260.3 782.5 L261 783.9 L261.7 783.2 L262.5 784.3 M255.5 775.7 L256.1 776.8 L256.7 776.3 L257.5 777.2 M264.6 788.2 L265.7 790 L266.7 789.5 L268.2 791.1 M271.4 790.1 L272.3 791.4 L273.2 791.3 L274.4 792.5 M289.4 796.2 L290.4 798 L291.4 797.4 L292.8 798.9 M265.7 781.9 L266.1 783 L266.6 782.3 L267.3 783.2 M250.2 769.5 L250.8 770.5 L251.3 770.2 L252.1 771 M247.3 772.7 L247.8 773.6 L248.3 773.1 L248.9 773.9 M259.1 780 L259.8 781.1 L260.4 780.8 L261.3 781.8 M269.1 785.1 L269.6 785.9 L270 785.6 L270.7 786.3 M263.3 776.9 L264.3 778.4 L265.3 778.2 L266.7 779.6 M287.7 793 L288.3 794.1 L288.9 793.7 L289.7 794.6 M272.2 796.1 L272.9 797.2 L273.5 796.9 L274.4 797.9 M285.2 803.8 L286.3 805.6 L287.3 805 L288.6 806.6 M285.6 794.7 L286.1 795.8 L286.7 795.2 L287.5 796.2 M248.6 777.5 L249.2 778.7 L249.8 778 L250.6 779 M257.6 775.5 L258.2 776.5 L258.7 776.1 L259.4 776.9 M276.5 800.7 L277.5 802.3 L278.5 801.9 L279.8 803.4 M277.8 796.9 L278.3 798 L278.8 797.3 L279.4 798.2 M289.8 796.3 L290.8 797.8 L291.7 797.4 L293 798.8 M253.2 772.7 L254.3 774.5 L255.4 773.9 L256.8 775.5 M293.1 791.6 L293.8 792.8 L294.5 792.3 L295.3 793.3 M253.4 767.5 L254.5 769.3 L255.6 768.9 L257.1 770.5 M259.1 778 L259.7 779.1 L260.2 778.5 L261 779.5 M259.4 782.7 L259.9 783.9 L260.4 783 L261.1 784 M263.8 784.1 L264.7 785.7 L265.5 785 L266.6 786.3 M270.8 786.9 L271.5 788.1 L272.3 787.9 L273.4 789 M255.4 784.7 L256.3 786.3 L257.2 785.8 L258.5 787.2 M262.5 786.4 L263.4 787.9 L264.2 787.2 L265.2 788.5 M258.9 777.4 L259.9 778.9 L260.8 778.5 L262.1 779.9 M273.6 795.4 L274.6 797.1 L275.7 796.7 L277.1 798.3 M275.9 785.9 L276.7 787.4 L277.5 786.7 L278.5 788 M268.5 786.9 L269.2 788.5 L270 787.7 L271 788.9 M280 799.8 L281.1 801.4 L282.2 801.2 L283.6 802.7 M253 783.5 L253.5 784.4 L253.9 784 L254.5 784.8 M284 800.6 L284.5 801.7 L285 801 L285.7 801.9 M265.9 785.2 L267 787.1 L268.2 786.5 L269.6 788.2 M254.9 783.1 L255.6 784.4 L256.4 784.1 L257.4 785.2 M256.5 778.9 L257.4 780.3 L258.3 780.1 L259.5 781.4 M273.2 783.5 L273.6 784.4 L274.1 783.9 L274.6 784.6 M276.5 786.2 L276.9 787.4 L277.4 786.4 L278 787.4 M284.2 803.3 L284.6 804.3 L285.1 803.8 L285.8 804.6 M260 771.8 L260.7 773.3 L261.4 772.5 L262.3 773.7 M274 793.2 L274.5 794 L274.9 793.7 L275.6 794.5 M277 797 L277.4 798.1 L277.9 797.3 L278.5 798.2 M268.5 779.7 L269.3 781.3 L270.1 780.5 L271.2 781.8 M259.8 771.8 L260.6 773.1 L261.4 772.8 L262.4 773.9 M252.4 773 L252.9 773.9 L253.3 773.5 L253.9 774.2 M261.9 778.4 L262.8 779.9 L263.8 779.6 L265.1 780.9 M281.6 787.6 L282.1 788.7 L282.7 788.2 L283.4 789.1 M270.4 798.2 L271.1 799.5 L271.8 799 L272.7 800.1 M279.5 803.7 L280.1 805.1 L280.8 804.4 L281.6 805.5 M280.3 790.8 L281 792 L281.7 791.6 L282.7 792.6 M249.8 771.9 L250.3 773 L250.8 772.2 L251.4 773.1 M259.3 773.1 L259.7 774.3 L260.2 773.4 L260.8 774.4 M288 792.1 L288.6 793.1 L289.2 792.8 L290 793.7 M261 784.2 L261.5 785.2 L262 784.7 L262.7 785.6 M261.8 780.3 L262.2 781.2 L262.6 780.7 L263.1 781.4 M269.5 785.8 L270 786.9 L270.6 786.4 L271.3 787.3 M247.5 776.9 L248 777.9 L248.5 777.3 L249.1 778.1 M249.3 767.8 L249.9 768.9 L250.5 768.6 L251.3 769.5 M274.7 786.8 L275.6 788.4 L276.6 787.9 L277.8 789.3 M280.8 799.9 L281.5 801.1 L282.2 800.7 L283.1 801.7 M281.2 791.1 L281.6 792.2 L282 791.4 L282.6 792.2 M289 790.5 L289.9 792.2 L290.9 791.5 L292.1 793 M270.9 798.2 L271.9 800 L272.9 799.3 L274.2 800.8 M274.6 800.4 L275.5 802 L276.4 801.4 L277.6 802.8 M253.5 780.5 L254 781.7 L254.5 780.9 L255.1 781.8 M273.4 790.5 L274.3 792 L275.1 791.4 L276.3 792.8 M284.6 795 L285.4 796.4 L286.1 795.8 L287.2 797 M250.8 776.9 L251.7 778.4 L252.6 778.1 L253.9 779.4 M281.9 803.5 L282.7 804.8 L283.4 804.4 L284.4 805.5 M269.7 792.6 L270.7 794.2 L271.6 793.7 L272.9 795.1 M254.2 776.5 L255.1 778 L256.1 777.7 L257.3 779 M250.1 777.1 L251 778.6 L251.9 778.1 L253.1 779.4 M271.5 784.4 L272.2 785.6 L272.9 785.3 L273.9 786.4 M285.6 803.2 L286.4 804.4 L287.1 804.1 L288.1 805.2 M288.8 793.3 L289.3 794.6 L289.9 793.8 L290.7 794.8" fill="none" stroke="#3a3a3a" stroke-width="0.55"/>
<path d="M189.7 764.5 L190.1 764 L190.5 764.4 L190.8 763.8 M189.8 769.4 L190.4 768.7 L191 769.3 L191.3 768.4 M184.7 769.2 L185.4 768.4 L186 769.1 L186.3 768.1 M194.8 763.2 L195.8 762.1 L196.7 763 L197.1 761.6 M194.8 764.6 L195.9 763.3 L196.9 764.3 L197.4 762.8 M193 774 L193.6 773.2 L194.2 773.9 L194.5 772.9 M188.1 769.1 L189.2 767.7 L190.3 768.8 L190.8 767.2 M191.2 768.1 L191.9 767.2 L192.6 767.9 L193 766.9 M186.7 765.4 L187.2 764.8 L187.6 765.3 L187.9 764.6 M194.8 766.5 L195.8 765.2 L196.9 766.3 L197.4 764.7 M186.3 768 L187.1 767 L187.8 767.8 L188.2 766.7 M185.4 769.4 L186.5 768.1 L187.6 769.1 L188.1 767.6 M195.5 772.5 L196.3 771.4 L197.2 772.3 L197.6 771 M195.9 773.9 L196.7 772.9 L197.5 773.7 L197.9 772.5 M193.1 764.1 L194 763 L194.9 763.9 L195.4 762.5 M189.2 773 L190.1 772 L190.9 772.8 L191.3 771.6 M186.8 765.4 L187.9 764.1 L188.9 765.1 L189.4 763.6 M184.5 770.7 L185.2 769.9 L185.8 770.6 L186.1 769.6 M187 773.3 L188.1 772 L189.2 773.1 L189.7 771.4 M186.5 772.5 L187.1 771.7 L187.7 772.3 L188 771.4 M190.8 768.6 L191.3 767.9 L191.8 768.5 L192.1 767.7 M185 767.6 L186.1 766.3 L187.1 767.3 L187.6 765.8 M189.9 766.7 L190.9 765.5 L191.9 766.5 L192.4 765 M197.1 768 L197.6 767.3 L198.1 767.8 L198.4 767.1 M185.5 766.1 L186.1 765.3 L186.8 766 L187.1 765 M184 768.1 L184.6 767.4 L185.2 768 L185.5 767.1 M176.5 780.9 L177.4 780 L178.2 780.5 M174.1 781.7 L174.8 780.9 L175.6 781.4 M173.5 782 L174.1 781.4 L174.6 781.7 M172 784.1 L172.6 783.5 L173.1 783.9 M175.4 781.1 L176.4 780.2 L177.3 780.7 M171 783.5 L171.7 782.9 L172.3 783.3 M173.9 781.9 L174.9 780.9 L175.9 781.5 M180.7 777.9 L181.2 777.4 L181.8 777.7 M168.2 786.2 L169.2 785.3 L170.2 785.8 M175 781.4 L175.5 780.9 L176 781.2 M158.8 783.3 L159.7 782.3 L160.4 782.9 M162.5 778.7 L163.4 777.7 L164 778.4 M163.8 776.2 L164.6 775.2 L165.3 775.9 M156.4 784.9 L157.3 783.8 L158 784.5 M159.9 781.5 L160.8 780.5 L161.5 781.2 M163.5 777.3 L164.4 776.3 L165 777 M161 780.4 L161.9 779.4 L162.5 780.1 M159.4 782 L160.2 781 L160.9 781.6 M156 813.1 L156.7 812.5 L157.4 812.9 M167.7 797.7 L168.4 797.1 L169.1 797.5 M157.2 808.4 L158.1 807.6 L159.1 808.1 M164.8 798.1 L165.3 797.6 L165.9 797.9 M162.5 803.9 L163.2 803.2 L164 803.6 M158.5 809 L159 808.5 L159.5 808.8 M159.5 806.8 L160.7 805.8 L161.8 806.5 M164 803.7 L164.9 803 L165.7 803.5 M158.6 806.6 L159.8 805.6 L160.9 806.3 M164.8 799.2 L165.4 798.7 L165.9 799 M162.1 804.9 L162.9 804.1 L163.7 804.6 M158.9 808.8 L160.1 807.8 L161.2 808.5 M158.5 805.4 L159.2 804.8 L160 805.2 M161.1 806.2 L161.7 805.6 L162.4 806 M166.1 800.3 L166.9 799.5 L167.8 800 M158.2 811.5 L158.9 810.9 L159.7 811.3 M166.4 796.8 L167 796.2 L167.7 796.6 M165.6 798.2 L166.7 797.2 L167.9 797.8 M162.1 801.9 L162.7 801.3 L163.4 801.7 M161 806.2 L162.2 805.1 L163.3 805.8 M157.4 809 L158.1 808.4 L158.8 808.8 M168.4 793.7 L169 793.2 L169.5 793.6 M125 824.5 L126 824 L126.7 825.1 L125.5 825.2 M122.4 822.5 L123.4 822 L124.1 823 L122.9 823.2 M119 820.8 L120 820.3 L120.7 821.3 L119.5 821.5 M129.2 816.6 L130.2 816 L130.9 817.1 L129.7 817.2 M134.3 813.2 L135.3 812.6 L136 813.7 L134.8 813.8 M141.1 814.9 L142.1 814.3 L142.8 815.4 L141.6 815.5 M147.6 817.7 L148.6 817.2 L149.3 818.3 L148.1 818.4 M105.4 829 L106.4 828.5 L107.1 829.5 L105.9 829.6 M86.7 829.3 L87.7 828.8 L88.4 829.8 L87.2 830 M59.5 835.3 L60.5 834.7 L61.2 835.8 L60 835.9 M52.7 836.6 L53.7 836.1 L54.4 837.1 L53.2 837.3 M49.3 837.1 L50.3 836.6 L51 837.6 L49.8 837.8 M40.8 837 L41.8 836.4 L42.5 837.5 L41.3 837.6 M66.3 796.5 L67.3 796 L68 797 L66.8 797.2 M68.5 802.1 L69.5 801.6 L70.2 802.6 L69 802.8 M0.9 830.2 L1.9 829.6 L2.6 830.7 L1.4 830.8 M100.3 820.8 L101.3 820.3 L102 821.3 L100.8 821.5 M103.7 820.1 L104.7 819.6 L105.4 820.6 L104.2 820.8 M117.9 822.6 L118.9 823.3 L119.7 823 M125.7 826 L126.7 826.6 L127.6 826.3 M124.2 826.7 L125.2 827.4 L126 827.1 M126 822.2 L127 822.9 L127.9 822.5 M119 826.3 L120.1 827 L120.9 826.7 M124.3 820.2 L125.3 820.8 L126.2 820.5 M123.5 822.5 L124.5 823.2 L125.4 822.9 M120.8 822.2 L121.8 822.9 L122.7 822.5" fill="none" stroke="#3a3a3a" stroke-width="0.5"/>
<path d="M283.9 810.9 L287.3 809.5 L290.7 813.2 L294.1 816.6 L296.3 820.6 L293.2 819.7 L289 816.3 L285.6 814.3Z" fill="#e9e9e9" />
<path d="M221.9 768.6 L199.8 681.7" fill="none" stroke="#a8a8a8" stroke-width="0.55" stroke-linejoin="round" />
</g>
<rect x="299" y="642" width="179" height="237" fill="#f4f4f4"/>
<path d="M325.2 723.8 L327.2 720.4 L329.8 719.6 L329.2 722.1 L326.4 725.8Z M336 718.7 L338.3 715.3 L342.5 713.9 L346.8 715 L347.9 717.9 L346.2 722.1 L342.5 724.1 L338.3 722.4Z M370.6 731.5 L374.8 730.6 L377.9 728.1 L379.9 731.5 L382.5 734.9 L385 738.3 L384.2 740.5 L379.9 740 L374.8 739.4 L372.3 735.7Z M393.2 742.5 L395.2 740.8 L402 741.7 L406.8 742.5 L405.4 745.6 L400.3 745.1 L395.2 745.1Z M399.1 749.6 L401.7 748.5 L404.6 751 L403.7 754.1 L400.6 754.1Z M407.1 748.5 L409.7 746.2 L412.2 747.6 L413.9 750.2 L418.2 748.5 L422.4 751 L424.1 754.1 L421.6 757 L415.6 758.7 L413.1 756.1 L411.4 751.9 L408 751Z M407.1 758.7 L410.2 757.5 L410.8 759.5 L408.5 760.5Z M425.8 767.2 L428.4 766 L432.6 769.7 L437.7 772.3 L442.8 775.7 L446.2 779.9 L449.6 783.3 L451.6 785.9 L447.9 790.1 L441.1 793.2 L436 796.9 L431.8 801.7 L427.5 799.5 L425.5 794.4 L425 786.7 L422.1 780.8 L425 775.7 L426.1 771.4Z" fill="#ffffff" stroke="#9a9a9a" stroke-width="0.6" stroke-linejoin="round"/>
<rect x="480" y="642" width="518" height="237" fill="#f4f4f4"/>
<rect x="998" y="640" width="2" height="240" fill="#fefefb"/>
<rect x="0" y="640" width="1000" height="2.3" fill="#ffffff"/>
<rect x="297" y="640" width="2" height="239" fill="#ffffff"/>
<rect x="478" y="640" width="2" height="239" fill="#ffffff"/>
<text x="620.4" y="670.7" font-size="18" font-weight="normal" font-style="normal" fill="#333333" text-anchor="start" textLength="98" lengthAdjust="spacingAndGlyphs" stroke="#333333" stroke-width="0.55">Probability</text>
<text x="723.5" y="670.7" font-size="18" font-weight="normal" font-style="normal" fill="#333333" text-anchor="start" textLength="145" lengthAdjust="spacingAndGlyphs">(percent chance)</text>
<text x="554.1" y="699.3" font-size="17.5" font-weight="normal" font-style="normal" fill="#333333" text-anchor="start" textLength="116.5" lengthAdjust="spacingAndGlyphs" stroke="#333333" stroke-width="0.55">Below Normal</text>
<text x="812.3" y="699.3" font-size="17.5" font-weight="normal" font-style="normal" fill="#333333" text-anchor="start" textLength="117" lengthAdjust="spacingAndGlyphs" stroke="#333333" stroke-width="0.55">Above Normal</text>
<text x="738.5" y="699.3" font-size="17.5" font-weight="normal" font-style="normal" fill="#333333" text-anchor="middle" textLength="38" lengthAdjust="spacingAndGlyphs" stroke="#333333" stroke-width="0.55">Near</text>
<text x="738.5" y="720.6" font-size="17.5" font-weight="normal" font-style="normal" fill="#333333" text-anchor="middle" textLength="60.5" lengthAdjust="spacingAndGlyphs" stroke="#333333" stroke-width="0.55">Normal</text>
<text x="741.5" y="802.5" font-size="17.5" font-weight="normal" font-style="normal" fill="#333333" text-anchor="middle" textLength="45" lengthAdjust="spacingAndGlyphs" stroke="#333333" stroke-width="0.55">Equal</text>
<text x="741.5" y="823.3" font-size="17.5" font-weight="normal" font-style="normal" fill="#333333" text-anchor="middle" textLength="68" lengthAdjust="spacingAndGlyphs" stroke="#333333" stroke-width="0.55">Chances</text>
<rect x="572.3" y="711.8" width="27.6" height="13.8" fill="#d4eef7" stroke="#6a6a6a" stroke-width="0.7"/>
<rect x="882.4" y="711.8" width="27.6" height="13.8" fill="#fee6ab" stroke="#6a6a6a" stroke-width="0.7"/>
<text x="607.4" y="724.3" font-size="16.5" font-weight="normal" font-style="normal" fill="#333333" text-anchor="start" textLength="63" lengthAdjust="spacingAndGlyphs">33–40%</text>
<text x="812.2" y="724.3" font-size="16.5" font-weight="normal" font-style="normal" fill="#333333" text-anchor="start" textLength="63" lengthAdjust="spacingAndGlyphs">33–40%</text>
<rect x="572.3" y="734.6" width="27.6" height="13.8" fill="#b3dcec" stroke="#6a6a6a" stroke-width="0.7"/>
<rect x="882.4" y="734.6" width="27.6" height="13.8" fill="#fdc97c" stroke="#6a6a6a" stroke-width="0.7"/>
<text x="607.4" y="747.0999999999999" font-size="16.5" font-weight="normal" font-style="normal" fill="#333333" text-anchor="start" textLength="63" lengthAdjust="spacingAndGlyphs">40–50%</text>
<text x="812.2" y="747.0999999999999" font-size="16.5" font-weight="normal" font-style="normal" fill="#333333" text-anchor="start" textLength="63" lengthAdjust="spacingAndGlyphs">40–50%</text>
<rect x="572.3" y="757.4" width="27.6" height="13.8" fill="#92c6df" stroke="#6a6a6a" stroke-width="0.7"/>
<rect x="882.4" y="757.4" width="27.6" height="13.8" fill="#fda35a" stroke="#6a6a6a" stroke-width="0.7"/>
<text x="607.4" y="769.9" font-size="16.5" font-weight="normal" font-style="normal" fill="#333333" text-anchor="start" textLength="63" lengthAdjust="spacingAndGlyphs">50–60%</text>
<text x="812.2" y="769.9" font-size="16.5" font-weight="normal" font-style="normal" fill="#333333" text-anchor="start" textLength="63" lengthAdjust="spacingAndGlyphs">50–60%</text>
<rect x="572.3" y="780.2" width="27.6" height="13.8" fill="#6da5d0" stroke="#6a6a6a" stroke-width="0.7"/>
<rect x="882.4" y="780.2" width="27.6" height="13.8" fill="#f67541" stroke="#6a6a6a" stroke-width="0.7"/>
<text x="607.4" y="792.6999999999999" font-size="16.5" font-weight="normal" font-style="normal" fill="#333333" text-anchor="start" textLength="63" lengthAdjust="spacingAndGlyphs">60–70%</text>
<text x="812.2" y="792.6999999999999" font-size="16.5" font-weight="normal" font-style="normal" fill="#333333" text-anchor="start" textLength="63" lengthAdjust="spacingAndGlyphs">60–70%</text>
<rect x="572.3" y="803.0" width="27.6" height="13.8" fill="#4d82bf" stroke="#6a6a6a" stroke-width="0.7"/>
<rect x="882.4" y="803.0" width="27.6" height="13.8" fill="#e54d30" stroke="#6a6a6a" stroke-width="0.7"/>
<text x="607.4" y="815.5" font-size="16.5" font-weight="normal" font-style="normal" fill="#333333" text-anchor="start" textLength="63" lengthAdjust="spacingAndGlyphs">70–80%</text>
<text x="812.2" y="815.5" font-size="16.5" font-weight="normal" font-style="normal" fill="#333333" text-anchor="start" textLength="63" lengthAdjust="spacingAndGlyphs">70–80%</text>
<rect x="572.3" y="825.8" width="27.6" height="13.8" fill="#3a5ba9" stroke="#6a6a6a" stroke-width="0.7"/>
<rect x="882.4" y="825.8" width="27.6" height="13.8" fill="#cb2126" stroke="#6a6a6a" stroke-width="0.7"/>
<text x="607.4" y="838.3" font-size="16.5" font-weight="normal" font-style="normal" fill="#333333" text-anchor="start" textLength="63" lengthAdjust="spacingAndGlyphs">80–90%</text>
<text x="812.2" y="838.3" font-size="16.5" font-weight="normal" font-style="normal" fill="#333333" text-anchor="start" textLength="63" lengthAdjust="spacingAndGlyphs">80–90%</text>
<rect x="572.3" y="848.6" width="27.6" height="13.8" fill="#2b2f92" stroke="#6a6a6a" stroke-width="0.7"/>
<rect x="882.4" y="848.6" width="27.6" height="13.8" fill="#990025" stroke="#6a6a6a" stroke-width="0.7"/>
<text x="607.4" y="861.0999999999999" font-size="16.5" font-weight="normal" font-style="normal" fill="#333333" text-anchor="start" textLength="72" lengthAdjust="spacingAndGlyphs">90–100%</text>
<text x="803.2" y="861.0999999999999" font-size="16.5" font-weight="normal" font-style="normal" fill="#333333" text-anchor="start" textLength="72" lengthAdjust="spacingAndGlyphs">90–100%</text>
<rect x="693.3" y="734.6" width="27.6" height="13.8" fill="#c8c8c8" stroke="#6a6a6a" stroke-width="0.7"/>
<text x="727" y="747.1" font-size="16.5" font-weight="normal" font-style="normal" fill="#333333" text-anchor="start" textLength="63" lengthAdjust="spacingAndGlyphs">33–40%</text>
<rect x="693.3" y="757.4" width="27.6" height="13.8" fill="#a8a8a8" stroke="#6a6a6a" stroke-width="0.7"/>
<text x="727" y="769.9" font-size="16.5" font-weight="normal" font-style="normal" fill="#333333" text-anchor="start" textLength="63" lengthAdjust="spacingAndGlyphs">40–50%</text>
<rect x="727.2" y="835.2" width="27.6" height="13.6" fill="#ffffff" stroke="#6a6a6a" stroke-width="0.7"/>
<path d="M567 712.2H559.6V748.3H567 M567 757.6H559.6V862.9H567 M913.8 712.2H921.2V748.3H913.8 M913.8 757.6H921.2V862.9H913.8" fill="none" stroke="#9a9a9a" stroke-width="0.8"/>
<text x="491" y="723.7" font-size="17" font-weight="normal" font-style="italic" fill="#8c8c8c" text-anchor="start" textLength="62" lengthAdjust="spacingAndGlyphs">Leaning</text>
<text x="498.2" y="746.6" font-size="17" font-weight="normal" font-style="italic" fill="#8c8c8c" text-anchor="start" textLength="47.3" lengthAdjust="spacingAndGlyphs">Below</text>
<text x="498.2" y="804.3" font-size="17" font-weight="normal" font-style="italic" fill="#8c8c8c" text-anchor="start" textLength="44.2" lengthAdjust="spacingAndGlyphs">Likely</text>
<text x="497" y="827.2" font-size="17" font-weight="normal" font-style="italic" fill="#8c8c8c" text-anchor="start" textLength="47.3" lengthAdjust="spacingAndGlyphs">Below</text>
<text x="926.2" y="723.7" font-size="17" font-weight="normal" font-style="italic" fill="#8c8c8c" text-anchor="start" textLength="62" lengthAdjust="spacingAndGlyphs">Leaning</text>
<text x="932.9" y="746.6" font-size="17" font-weight="normal" font-style="italic" fill="#8c8c8c" text-anchor="start" textLength="47.6" lengthAdjust="spacingAndGlyphs">Above</text>
<text x="932.9" y="804.3" font-size="17" font-weight="normal" font-style="italic" fill="#8c8c8c" text-anchor="start" textLength="44.2" lengthAdjust="spacingAndGlyphs">Likely</text>
<text x="931.1" y="827.2" font-size="17" font-weight="normal" font-style="italic" fill="#8c8c8c" text-anchor="start" textLength="47.3" lengthAdjust="spacingAndGlyphs">Above</text>
<text x="2.5" y="895.8" font-size="18" font-weight="normal" font-style="normal" fill="#8c8c8c" text-anchor="start" textLength="182" lengthAdjust="spacingAndGlyphs">Temperature Outlook</text>
<text x="2.5" y="914.5" font-size="18" font-weight="normal" font-style="normal" fill="#8c8c8c" text-anchor="start" textLength="158.5" lengthAdjust="spacingAndGlyphs">for November 2020</text>
<text x="2.5" y="931.8" font-size="18" font-weight="normal" font-style="normal" fill="#8c8c8c" text-anchor="start" textLength="153" lengthAdjust="spacingAndGlyphs">Issued 15 Oct 2020</text>
<text x="736" y="895.8" font-size="18" font-weight="normal" font-style="normal" fill="#8c8c8c" text-anchor="start" textLength="258.4" lengthAdjust="spacingAndGlyphs">NWS Climate Prediction Center</text>
<text x="736" y="914.6" font-size="18" font-weight="normal" font-style="normal" fill="#8c8c8c" text-anchor="start" textLength="215" lengthAdjust="spacingAndGlyphs">Map by NOAA Climate.gov</text>
</svg></body></html>
